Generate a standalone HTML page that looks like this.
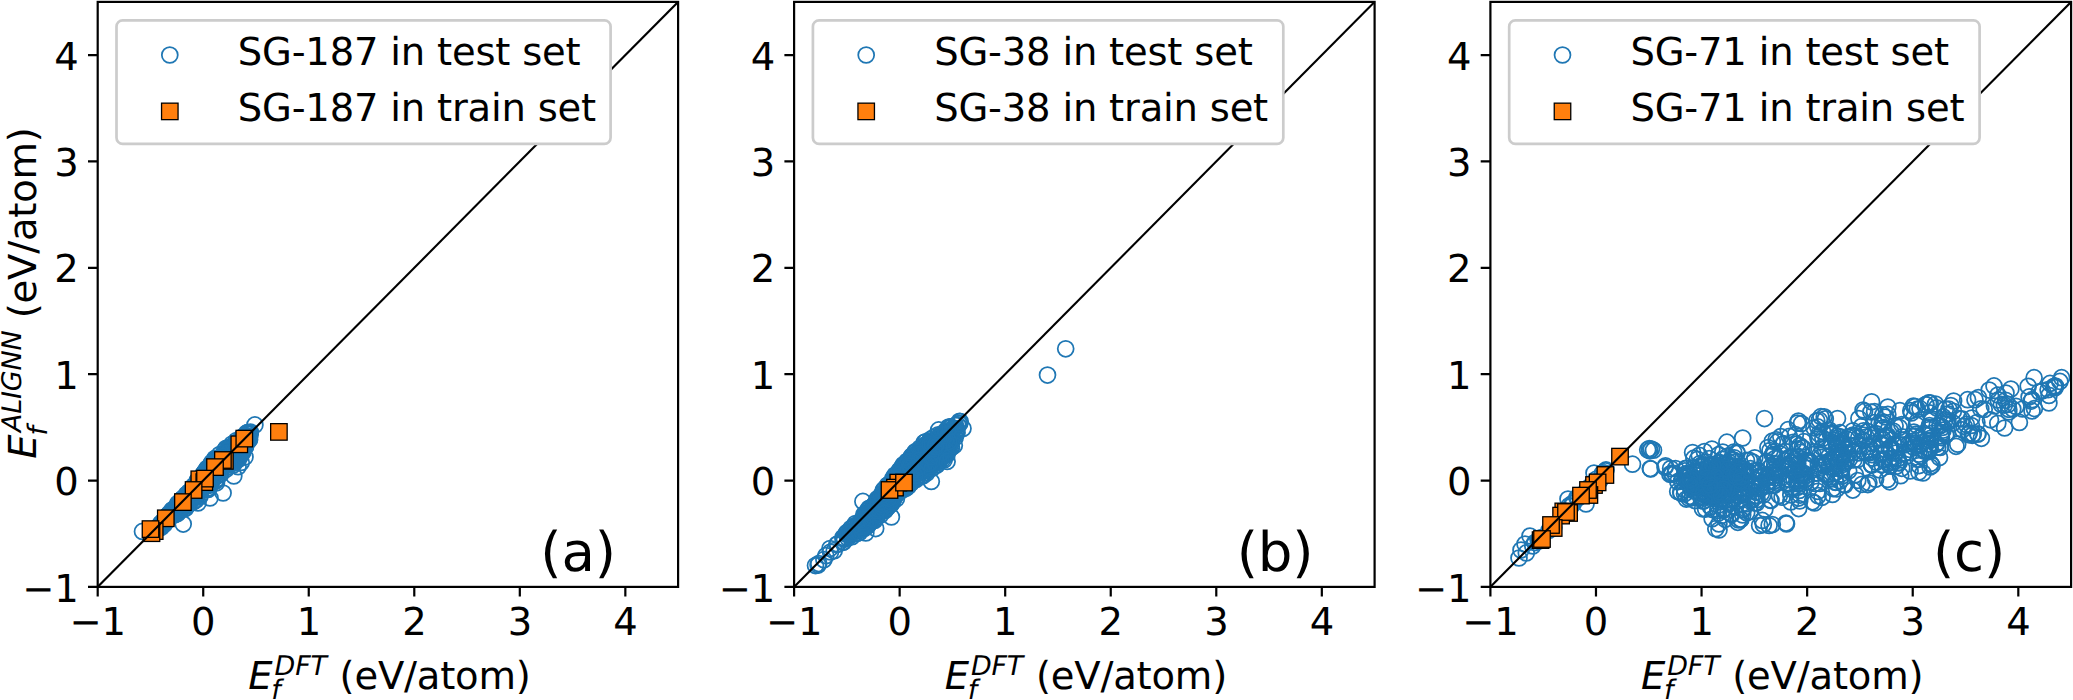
<!DOCTYPE html>
<html><head><meta charset="utf-8"><title>ALIGNN vs DFT formation energy</title>
<style>html,body{margin:0;padding:0;background:#fff}svg{display:block}text{font-family:"DejaVu Sans","Liberation Sans",sans-serif;fill:#000;text-rendering:geometricPrecision;letter-spacing:-0.2px}.i{font-style:oblique}</style></head><body>
<svg width="2073" height="700" viewBox="0 0 2073 700">
<rect width="2073" height="700" fill="#fff"/>
<defs>
<circle id="c" r="7.97" fill="none" stroke="#1f77b4" stroke-width="1.75"/>
<rect id="s" x="-8.25" y="-8.25" width="16.5" height="16.5" fill="#ff7f0e" stroke="#000" stroke-width="1.3" stroke-linejoin="miter"/>
<clipPath id="cp0"><rect x="97.7" y="1.9" width="580.4" height="585.0"/></clipPath>
<clipPath id="cp1"><rect x="794.1" y="1.9" width="580.4999999999999" height="585.0"/></clipPath>
<clipPath id="cp2"><rect x="1490.4" y="1.9" width="580.6999999999998" height="585.0"/></clipPath>
</defs>
<g clip-path="url(#cp0)">
<use href="#c" x="212.0" y="474.0"/><use href="#c" x="160.5" y="523.8"/><use href="#c" x="189.5" y="503.3"/><use href="#c" x="230.1" y="456.2"/><use href="#c" x="206.9" y="489.1"/><use href="#c" x="200.6" y="480.3"/><use href="#c" x="237.8" y="459.6"/><use href="#c" x="240.6" y="447.0"/><use href="#c" x="174.7" y="509.8"/><use href="#c" x="199.2" y="491.1"/><use href="#c" x="155.3" y="531.0"/><use href="#c" x="220.7" y="460.2"/><use href="#c" x="210.7" y="484.0"/><use href="#c" x="198.9" y="486.2"/><use href="#c" x="240.6" y="455.7"/><use href="#c" x="155.4" y="528.8"/><use href="#c" x="236.4" y="440.6"/><use href="#c" x="245.0" y="438.2"/><use href="#c" x="226.1" y="469.3"/><use href="#c" x="225.6" y="453.8"/><use href="#c" x="229.5" y="453.2"/><use href="#c" x="230.0" y="461.1"/><use href="#c" x="167.6" y="515.7"/><use href="#c" x="215.4" y="468.1"/><use href="#c" x="176.1" y="507.5"/><use href="#c" x="215.5" y="466.5"/><use href="#c" x="166.3" y="519.9"/><use href="#c" x="164.9" y="519.0"/><use href="#c" x="241.7" y="437.3"/><use href="#c" x="220.0" y="458.8"/><use href="#c" x="223.4" y="455.9"/><use href="#c" x="177.8" y="506.7"/><use href="#c" x="212.1" y="466.3"/><use href="#c" x="225.0" y="456.4"/><use href="#c" x="207.3" y="468.2"/><use href="#c" x="163.0" y="525.1"/><use href="#c" x="231.2" y="451.6"/><use href="#c" x="227.0" y="458.6"/><use href="#c" x="226.4" y="455.1"/><use href="#c" x="220.7" y="457.0"/><use href="#c" x="197.1" y="491.3"/><use href="#c" x="232.7" y="459.5"/><use href="#c" x="239.2" y="446.2"/><use href="#c" x="197.8" y="487.0"/><use href="#c" x="193.8" y="486.9"/><use href="#c" x="237.3" y="451.7"/><use href="#c" x="248.2" y="440.9"/><use href="#c" x="206.2" y="477.3"/><use href="#c" x="228.0" y="462.3"/><use href="#c" x="247.9" y="434.0"/><use href="#c" x="202.9" y="486.4"/><use href="#c" x="225.4" y="462.8"/><use href="#c" x="243.8" y="437.2"/><use href="#c" x="197.1" y="483.8"/><use href="#c" x="219.0" y="461.8"/><use href="#c" x="202.4" y="484.8"/><use href="#c" x="201.1" y="482.1"/><use href="#c" x="192.4" y="490.6"/><use href="#c" x="210.2" y="471.5"/><use href="#c" x="200.0" y="486.5"/><use href="#c" x="177.5" y="513.6"/><use href="#c" x="196.0" y="500.0"/><use href="#c" x="229.9" y="453.4"/><use href="#c" x="175.6" y="509.7"/><use href="#c" x="186.4" y="498.3"/><use href="#c" x="184.4" y="504.4"/><use href="#c" x="214.2" y="460.4"/><use href="#c" x="217.3" y="461.9"/><use href="#c" x="226.0" y="452.2"/><use href="#c" x="166.1" y="516.9"/><use href="#c" x="220.4" y="461.9"/><use href="#c" x="193.0" y="502.1"/><use href="#c" x="177.6" y="503.7"/><use href="#c" x="190.5" y="501.1"/><use href="#c" x="241.9" y="441.9"/><use href="#c" x="239.3" y="446.2"/><use href="#c" x="230.5" y="450.7"/><use href="#c" x="222.3" y="466.4"/><use href="#c" x="221.2" y="467.7"/><use href="#c" x="187.0" y="496.7"/><use href="#c" x="191.2" y="492.4"/><use href="#c" x="231.3" y="450.1"/><use href="#c" x="232.2" y="454.7"/><use href="#c" x="214.7" y="458.7"/><use href="#c" x="247.0" y="438.5"/><use href="#c" x="216.0" y="466.5"/><use href="#c" x="202.6" y="481.0"/><use href="#c" x="199.8" y="485.4"/><use href="#c" x="211.4" y="478.1"/><use href="#c" x="228.6" y="447.5"/><use href="#c" x="197.2" y="486.5"/><use href="#c" x="199.7" y="484.2"/><use href="#c" x="247.3" y="441.3"/><use href="#c" x="164.8" y="520.8"/><use href="#c" x="188.7" y="502.2"/><use href="#c" x="231.9" y="461.3"/><use href="#c" x="175.3" y="508.2"/><use href="#c" x="185.9" y="508.1"/><use href="#c" x="215.2" y="460.1"/><use href="#c" x="219.8" y="474.2"/><use href="#c" x="158.1" y="528.2"/><use href="#c" x="210.1" y="476.8"/><use href="#c" x="248.8" y="436.7"/><use href="#c" x="211.3" y="471.7"/><use href="#c" x="243.1" y="438.8"/><use href="#c" x="232.3" y="453.6"/><use href="#c" x="238.7" y="456.1"/><use href="#c" x="213.8" y="471.2"/><use href="#c" x="183.7" y="505.2"/><use href="#c" x="199.1" y="484.6"/><use href="#c" x="181.6" y="507.5"/><use href="#c" x="169.1" y="514.9"/><use href="#c" x="235.5" y="460.5"/><use href="#c" x="207.3" y="468.8"/><use href="#c" x="184.0" y="506.1"/><use href="#c" x="211.5" y="468.8"/><use href="#c" x="245.0" y="446.2"/><use href="#c" x="161.5" y="522.8"/><use href="#c" x="198.7" y="479.7"/><use href="#c" x="160.8" y="526.3"/><use href="#c" x="222.3" y="457.6"/><use href="#c" x="245.5" y="446.9"/><use href="#c" x="169.4" y="516.8"/><use href="#c" x="216.5" y="476.2"/><use href="#c" x="238.2" y="459.5"/><use href="#c" x="195.9" y="495.6"/><use href="#c" x="220.2" y="461.8"/><use href="#c" x="164.6" y="519.1"/><use href="#c" x="210.6" y="473.3"/><use href="#c" x="183.3" y="498.8"/><use href="#c" x="223.2" y="462.3"/><use href="#c" x="235.1" y="448.3"/><use href="#c" x="200.3" y="479.7"/><use href="#c" x="174.8" y="514.7"/><use href="#c" x="246.4" y="433.2"/><use href="#c" x="185.5" y="505.6"/><use href="#c" x="215.1" y="462.1"/><use href="#c" x="156.8" y="527.8"/><use href="#c" x="187.7" y="503.5"/><use href="#c" x="212.4" y="478.9"/><use href="#c" x="227.9" y="450.8"/><use href="#c" x="239.4" y="443.8"/><use href="#c" x="174.9" y="514.0"/><use href="#c" x="224.2" y="457.4"/><use href="#c" x="231.9" y="459.2"/><use href="#c" x="226.1" y="448.3"/><use href="#c" x="191.6" y="499.6"/><use href="#c" x="215.3" y="458.6"/><use href="#c" x="161.3" y="527.3"/><use href="#c" x="227.7" y="464.9"/><use href="#c" x="199.4" y="489.3"/><use href="#c" x="233.7" y="457.2"/><use href="#c" x="209.8" y="475.7"/><use href="#c" x="209.6" y="473.7"/><use href="#c" x="186.3" y="494.6"/><use href="#c" x="197.6" y="491.9"/><use href="#c" x="165.8" y="521.2"/><use href="#c" x="161.6" y="525.8"/><use href="#c" x="187.9" y="503.4"/><use href="#c" x="211.7" y="481.1"/><use href="#c" x="185.3" y="501.8"/><use href="#c" x="220.5" y="461.2"/><use href="#c" x="245.0" y="442.7"/><use href="#c" x="213.2" y="478.6"/><use href="#c" x="231.2" y="450.5"/><use href="#c" x="248.7" y="436.3"/><use href="#c" x="230.1" y="453.8"/><use href="#c" x="193.1" y="491.2"/><use href="#c" x="183.4" y="504.9"/><use href="#c" x="245.1" y="440.3"/><use href="#c" x="219.4" y="463.5"/><use href="#c" x="195.2" y="500.3"/><use href="#c" x="247.6" y="432.7"/><use href="#c" x="250.3" y="432.0"/><use href="#c" x="166.7" y="516.4"/><use href="#c" x="195.2" y="485.0"/><use href="#c" x="179.8" y="506.2"/><use href="#c" x="166.1" y="518.7"/><use href="#c" x="232.1" y="444.0"/><use href="#c" x="206.4" y="485.0"/><use href="#c" x="193.4" y="486.1"/><use href="#c" x="219.9" y="463.0"/><use href="#c" x="203.1" y="478.8"/><use href="#c" x="232.5" y="461.4"/><use href="#c" x="209.2" y="487.7"/><use href="#c" x="245.3" y="444.1"/><use href="#c" x="234.3" y="447.0"/><use href="#c" x="225.1" y="460.5"/><use href="#c" x="235.5" y="443.9"/><use href="#c" x="239.5" y="441.2"/><use href="#c" x="206.5" y="469.2"/><use href="#c" x="219.0" y="459.6"/><use href="#c" x="231.6" y="459.7"/><use href="#c" x="181.3" y="499.8"/><use href="#c" x="204.6" y="476.7"/><use href="#c" x="216.4" y="480.6"/><use href="#c" x="235.7" y="450.8"/><use href="#c" x="195.9" y="489.6"/><use href="#c" x="249.7" y="433.1"/><use href="#c" x="250.2" y="434.4"/><use href="#c" x="192.5" y="499.4"/><use href="#c" x="191.7" y="493.7"/><use href="#c" x="208.1" y="489.4"/><use href="#c" x="241.8" y="441.8"/><use href="#c" x="186.9" y="505.5"/><use href="#c" x="195.3" y="491.6"/><use href="#c" x="203.2" y="482.2"/><use href="#c" x="209.6" y="482.8"/><use href="#c" x="235.1" y="460.2"/><use href="#c" x="223.7" y="463.8"/><use href="#c" x="233.3" y="451.6"/><use href="#c" x="215.0" y="470.0"/><use href="#c" x="156.4" y="529.9"/><use href="#c" x="160.1" y="527.0"/><use href="#c" x="191.9" y="495.7"/><use href="#c" x="213.4" y="472.9"/><use href="#c" x="210.3" y="467.1"/><use href="#c" x="180.7" y="506.8"/><use href="#c" x="236.4" y="454.8"/><use href="#c" x="207.5" y="472.9"/><use href="#c" x="155.3" y="530.5"/><use href="#c" x="171.2" y="512.7"/><use href="#c" x="234.6" y="459.0"/><use href="#c" x="220.3" y="473.6"/><use href="#c" x="229.0" y="459.1"/><use href="#c" x="189.6" y="494.0"/><use href="#c" x="219.7" y="469.7"/><use href="#c" x="236.1" y="447.2"/><use href="#c" x="222.9" y="454.6"/><use href="#c" x="232.6" y="456.9"/><use href="#c" x="176.7" y="508.9"/><use href="#c" x="242.0" y="446.7"/><use href="#c" x="236.7" y="442.7"/><use href="#c" x="214.2" y="463.0"/><use href="#c" x="176.9" y="506.3"/><use href="#c" x="236.6" y="453.0"/><use href="#c" x="248.5" y="433.4"/><use href="#c" x="226.2" y="454.2"/><use href="#c" x="216.5" y="482.8"/><use href="#c" x="199.7" y="492.0"/><use href="#c" x="245.4" y="446.6"/><use href="#c" x="203.8" y="473.3"/><use href="#c" x="226.8" y="454.2"/><use href="#c" x="242.2" y="440.0"/><use href="#c" x="199.9" y="496.4"/><use href="#c" x="215.2" y="463.1"/><use href="#c" x="165.4" y="519.7"/><use href="#c" x="182.9" y="498.3"/><use href="#c" x="175.1" y="511.3"/><use href="#c" x="207.3" y="472.0"/><use href="#c" x="200.5" y="484.4"/><use href="#c" x="189.6" y="497.6"/><use href="#c" x="220.4" y="459.4"/><use href="#c" x="206.9" y="483.7"/><use href="#c" x="166.3" y="519.1"/><use href="#c" x="219.2" y="467.4"/><use href="#c" x="247.5" y="441.4"/><use href="#c" x="178.6" y="508.2"/><use href="#c" x="158.6" y="528.0"/><use href="#c" x="227.2" y="467.0"/><use href="#c" x="193.2" y="492.5"/><use href="#c" x="245.5" y="435.9"/><use href="#c" x="196.4" y="489.5"/><use href="#c" x="249.6" y="439.4"/><use href="#c" x="178.4" y="503.3"/><use href="#c" x="195.2" y="492.4"/><use href="#c" x="247.0" y="439.7"/><use href="#c" x="186.4" y="496.5"/><use href="#c" x="242.8" y="441.0"/><use href="#c" x="184.9" y="508.6"/><use href="#c" x="182.3" y="498.9"/><use href="#c" x="197.0" y="481.9"/><use href="#c" x="154.5" y="532.7"/><use href="#c" x="213.5" y="471.8"/><use href="#c" x="241.8" y="450.5"/><use href="#c" x="228.9" y="449.0"/><use href="#c" x="222.5" y="465.2"/><use href="#c" x="233.5" y="448.8"/><use href="#c" x="198.6" y="480.7"/><use href="#c" x="199.5" y="478.2"/><use href="#c" x="242.6" y="452.5"/><use href="#c" x="201.8" y="489.1"/><use href="#c" x="182.8" y="500.4"/><use href="#c" x="223.2" y="457.8"/><use href="#c" x="203.9" y="473.0"/><use href="#c" x="236.8" y="443.7"/><use href="#c" x="235.5" y="448.1"/><use href="#c" x="213.4" y="477.5"/><use href="#c" x="231.4" y="449.0"/><use href="#c" x="197.0" y="486.7"/><use href="#c" x="237.7" y="456.8"/><use href="#c" x="235.1" y="454.3"/><use href="#c" x="203.1" y="478.9"/><use href="#c" x="181.6" y="503.5"/><use href="#c" x="213.4" y="468.9"/><use href="#c" x="217.8" y="467.2"/><use href="#c" x="187.9" y="493.4"/><use href="#c" x="209.3" y="469.1"/><use href="#c" x="243.7" y="443.1"/><use href="#c" x="215.3" y="481.1"/><use href="#c" x="219.1" y="462.8"/><use href="#c" x="166.8" y="520.6"/><use href="#c" x="242.0" y="441.9"/><use href="#c" x="155.6" y="530.3"/><use href="#c" x="216.4" y="467.0"/><use href="#c" x="233.4" y="465.0"/><use href="#c" x="192.5" y="495.1"/><use href="#c" x="203.8" y="477.4"/><use href="#c" x="209.8" y="483.1"/><use href="#c" x="181.7" y="500.1"/><use href="#c" x="172.3" y="514.2"/><use href="#c" x="203.0" y="484.3"/><use href="#c" x="219.6" y="454.6"/><use href="#c" x="169.4" y="513.6"/><use href="#c" x="189.2" y="491.8"/><use href="#c" x="242.6" y="441.4"/><use href="#c" x="230.9" y="455.4"/><use href="#c" x="215.0" y="462.9"/><use href="#c" x="175.1" y="513.4"/><use href="#c" x="193.2" y="494.6"/><use href="#c" x="166.7" y="519.8"/><use href="#c" x="202.8" y="477.8"/><use href="#c" x="197.9" y="485.8"/><use href="#c" x="231.6" y="451.9"/><use href="#c" x="224.5" y="450.7"/><use href="#c" x="229.3" y="460.3"/><use href="#c" x="242.4" y="449.8"/><use href="#c" x="227.8" y="450.3"/><use href="#c" x="172.7" y="509.6"/><use href="#c" x="212.7" y="462.4"/><use href="#c" x="165.8" y="520.4"/><use href="#c" x="220.1" y="474.6"/><use href="#c" x="205.0" y="474.0"/><use href="#c" x="204.3" y="486.1"/><use href="#c" x="180.3" y="510.6"/><use href="#c" x="205.3" y="474.6"/><use href="#c" x="208.6" y="485.4"/><use href="#c" x="187.4" y="498.6"/><use href="#c" x="184.9" y="506.6"/><use href="#c" x="207.3" y="483.3"/><use href="#c" x="213.2" y="464.7"/><use href="#c" x="209.0" y="471.4"/><use href="#c" x="239.2" y="453.9"/><use href="#c" x="231.5" y="455.6"/><use href="#c" x="207.8" y="473.9"/><use href="#c" x="164.7" y="524.0"/><use href="#c" x="194.9" y="490.6"/><use href="#c" x="198.6" y="493.3"/><use href="#c" x="233.8" y="463.1"/><use href="#c" x="209.5" y="477.5"/><use href="#c" x="227.1" y="457.3"/><use href="#c" x="213.4" y="468.3"/><use href="#c" x="165.8" y="519.0"/><use href="#c" x="197.8" y="485.0"/><use href="#c" x="205.2" y="485.7"/><use href="#c" x="209.3" y="467.3"/><use href="#c" x="214.8" y="474.2"/><use href="#c" x="220.6" y="474.2"/><use href="#c" x="218.7" y="462.5"/><use href="#c" x="212.0" y="462.4"/><use href="#c" x="178.5" y="504.8"/><use href="#c" x="198.4" y="485.4"/><use href="#c" x="215.4" y="468.5"/><use href="#c" x="227.9" y="453.1"/><use href="#c" x="234.9" y="456.5"/><use href="#c" x="200.0" y="494.9"/><use href="#c" x="197.6" y="480.1"/><use href="#c" x="197.1" y="482.4"/><use href="#c" x="205.7" y="478.0"/><use href="#c" x="224.4" y="456.2"/><use href="#c" x="211.5" y="468.2"/><use href="#c" x="156.6" y="529.1"/><use href="#c" x="170.9" y="513.2"/><use href="#c" x="196.9" y="491.2"/><use href="#c" x="174.9" y="508.3"/><use href="#c" x="173.5" y="511.0"/><use href="#c" x="214.5" y="471.5"/><use href="#c" x="201.3" y="484.1"/><use href="#c" x="172.9" y="514.1"/><use href="#c" x="202.0" y="478.7"/><use href="#c" x="155.7" y="529.2"/><use href="#c" x="198.7" y="483.1"/><use href="#c" x="248.0" y="432.6"/><use href="#c" x="206.3" y="471.5"/><use href="#c" x="169.4" y="518.3"/><use href="#c" x="239.5" y="446.1"/><use href="#c" x="188.1" y="495.4"/><use href="#c" x="208.9" y="474.5"/><use href="#c" x="195.0" y="493.9"/><use href="#c" x="196.1" y="491.3"/><use href="#c" x="205.3" y="471.6"/><use href="#c" x="185.9" y="498.8"/><use href="#c" x="205.3" y="483.0"/><use href="#c" x="219.6" y="465.7"/><use href="#c" x="178.3" y="512.2"/><use href="#c" x="214.9" y="470.4"/><use href="#c" x="199.1" y="486.8"/><use href="#c" x="242.6" y="452.1"/><use href="#c" x="238.9" y="444.5"/><use href="#c" x="209.3" y="472.0"/><use href="#c" x="232.1" y="455.2"/><use href="#c" x="233.7" y="450.0"/><use href="#c" x="171.6" y="510.8"/><use href="#c" x="211.5" y="462.9"/><use href="#c" x="184.6" y="498.8"/><use href="#c" x="245.1" y="439.5"/><use href="#c" x="198.5" y="489.4"/><use href="#c" x="187.6" y="494.4"/><use href="#c" x="198.1" y="485.7"/><use href="#c" x="222.1" y="458.3"/><use href="#c" x="205.3" y="480.6"/><use href="#c" x="235.6" y="450.1"/><use href="#c" x="203.6" y="478.5"/><use href="#c" x="207.2" y="480.8"/><use href="#c" x="228.9" y="464.3"/><use href="#c" x="185.6" y="500.3"/><use href="#c" x="208.7" y="472.2"/><use href="#c" x="208.0" y="471.1"/><use href="#c" x="205.2" y="478.0"/><use href="#c" x="180.5" y="507.3"/><use href="#c" x="142.5" y="531.4"/><use href="#c" x="183.2" y="524.1"/><use href="#c" x="223.1" y="493.0"/><use href="#c" x="210.0" y="498.0"/><use href="#c" x="198.0" y="502.9"/><use href="#c" x="254.9" y="424.9"/><use href="#c" x="249.0" y="439.9"/><use href="#c" x="245.0" y="456.9"/><use href="#c" x="233.8" y="476.0"/><use href="#c" x="238.1" y="466.7"/><use href="#c" x="241.2" y="462.5"/>
<use href="#s" x="278.9" y="431.9"/><use href="#s" x="239.3" y="444.3"/><use href="#s" x="244.3" y="438.6"/><use href="#s" x="224.9" y="460.9"/><use href="#s" x="222.9" y="460.0"/><use href="#s" x="215.0" y="467.1"/><use href="#s" x="199.3" y="479.3"/><use href="#s" x="204.3" y="482.1"/><use href="#s" x="205.0" y="478.6"/><use href="#s" x="193.6" y="490.0"/><use href="#s" x="182.9" y="502.1"/><use href="#s" x="165.8" y="518.3"/><use href="#s" x="154.7" y="531.1"/><use href="#s" x="151.5" y="533.2"/><use href="#s" x="150.5" y="529.1"/>
<line x1="97.7" y1="586.9" x2="678.1" y2="1.9" stroke="#000" stroke-width="2.1"/>
</g>
<rect x="116.5" y="20.3" width="494.1" height="123.6" rx="6.2" ry="6.2" fill="#fff" stroke="#ccc" stroke-width="2.7"/>
<use href="#c" x="169.8" y="55.0"/>
<use href="#s" x="169.8" y="111.4"/>
<text x="237.8" y="65.0" font-size="38.5">SG-187 in test set</text>
<text x="237.8" y="121.2" font-size="38.5">SG-187 in train set</text>
<rect x="97.7" y="1.9" width="580.4" height="585.0" fill="none" stroke="#000" stroke-width="2.2"/>
<path d="M97.70 586.9v9.7M97.7 586.90h-9.7M203.23 586.9v9.7M97.7 480.54h-9.7M308.75 586.9v9.7M97.7 374.17h-9.7M414.28 586.9v9.7M97.7 267.81h-9.7M519.81 586.9v9.7M97.7 161.45h-9.7M625.34 586.9v9.7M97.7 55.08h-9.7" stroke="#000" stroke-width="2.2" fill="none"/>
<text x="97.7" y="635.3" font-size="38.5" text-anchor="middle">−1</text>
<text x="78.6" y="601.5" font-size="38.5" text-anchor="end">−1</text>
<text x="203.2" y="635.3" font-size="38.5" text-anchor="middle">0</text>
<text x="78.6" y="495.1" font-size="38.5" text-anchor="end">0</text>
<text x="308.8" y="635.3" font-size="38.5" text-anchor="middle">1</text>
<text x="78.6" y="388.8" font-size="38.5" text-anchor="end">1</text>
<text x="414.3" y="635.3" font-size="38.5" text-anchor="middle">2</text>
<text x="78.6" y="282.4" font-size="38.5" text-anchor="end">2</text>
<text x="519.8" y="635.3" font-size="38.5" text-anchor="middle">3</text>
<text x="78.6" y="176.0" font-size="38.5" text-anchor="end">3</text>
<text x="625.3" y="635.3" font-size="38.5" text-anchor="middle">4</text>
<text x="78.6" y="69.7" font-size="38.5" text-anchor="end">4</text>
<text x="540.3" y="571.0" font-size="54.6">(a)</text>
<text x="248.3" y="689.2" font-size="38.5" class="i">E</text>
<text x="274.6" y="674.9" font-size="26.95" class="i">DFT</text>
<text x="271.3" y="699.1" font-size="26.95" class="i">f</text>
<text x="339.6" y="689.2" font-size="38.5">(eV/atom)</text>
<g clip-path="url(#cp1)">
<use href="#c" x="866.2" y="513.1"/><use href="#c" x="940.2" y="455.8"/><use href="#c" x="875.9" y="502.8"/><use href="#c" x="852.9" y="528.5"/><use href="#c" x="909.8" y="462.9"/><use href="#c" x="911.6" y="461.7"/><use href="#c" x="876.2" y="502.1"/><use href="#c" x="902.6" y="479.3"/><use href="#c" x="947.2" y="431.4"/><use href="#c" x="931.8" y="441.1"/><use href="#c" x="888.1" y="501.3"/><use href="#c" x="878.8" y="501.7"/><use href="#c" x="926.4" y="444.7"/><use href="#c" x="916.4" y="477.6"/><use href="#c" x="915.3" y="454.7"/><use href="#c" x="916.5" y="456.6"/><use href="#c" x="916.7" y="470.0"/><use href="#c" x="940.4" y="458.9"/><use href="#c" x="842.8" y="537.7"/><use href="#c" x="914.4" y="453.0"/><use href="#c" x="843.2" y="542.3"/><use href="#c" x="939.6" y="440.2"/><use href="#c" x="874.8" y="506.6"/><use href="#c" x="943.6" y="448.4"/><use href="#c" x="944.3" y="438.4"/><use href="#c" x="849.6" y="534.8"/><use href="#c" x="937.7" y="443.8"/><use href="#c" x="869.0" y="508.3"/><use href="#c" x="903.0" y="469.1"/><use href="#c" x="911.6" y="457.8"/><use href="#c" x="863.6" y="521.4"/><use href="#c" x="945.8" y="436.1"/><use href="#c" x="944.3" y="441.8"/><use href="#c" x="927.7" y="463.9"/><use href="#c" x="881.4" y="495.6"/><use href="#c" x="923.0" y="447.3"/><use href="#c" x="854.6" y="530.3"/><use href="#c" x="956.2" y="430.8"/><use href="#c" x="924.1" y="466.8"/><use href="#c" x="885.8" y="494.5"/><use href="#c" x="924.0" y="442.7"/><use href="#c" x="926.5" y="469.0"/><use href="#c" x="887.8" y="498.6"/><use href="#c" x="906.0" y="465.7"/><use href="#c" x="901.5" y="480.6"/><use href="#c" x="890.5" y="490.6"/><use href="#c" x="924.7" y="455.9"/><use href="#c" x="951.1" y="439.5"/><use href="#c" x="937.8" y="461.6"/><use href="#c" x="891.2" y="485.2"/><use href="#c" x="940.8" y="453.4"/><use href="#c" x="921.5" y="453.6"/><use href="#c" x="909.6" y="476.7"/><use href="#c" x="926.3" y="461.1"/><use href="#c" x="924.7" y="446.9"/><use href="#c" x="858.1" y="526.0"/><use href="#c" x="886.9" y="495.6"/><use href="#c" x="890.9" y="484.4"/><use href="#c" x="865.4" y="518.2"/><use href="#c" x="857.5" y="525.6"/><use href="#c" x="959.2" y="423.6"/><use href="#c" x="926.1" y="445.7"/><use href="#c" x="951.3" y="438.6"/><use href="#c" x="850.3" y="532.1"/><use href="#c" x="916.1" y="462.3"/><use href="#c" x="882.6" y="509.0"/><use href="#c" x="917.4" y="472.9"/><use href="#c" x="894.0" y="498.2"/><use href="#c" x="911.4" y="482.7"/><use href="#c" x="931.4" y="445.2"/><use href="#c" x="908.8" y="475.9"/><use href="#c" x="908.7" y="482.5"/><use href="#c" x="936.9" y="462.3"/><use href="#c" x="893.5" y="488.8"/><use href="#c" x="955.2" y="432.8"/><use href="#c" x="868.8" y="513.1"/><use href="#c" x="911.0" y="464.9"/><use href="#c" x="946.5" y="454.4"/><use href="#c" x="944.5" y="434.4"/><use href="#c" x="923.5" y="455.6"/><use href="#c" x="925.7" y="466.9"/><use href="#c" x="922.2" y="467.8"/><use href="#c" x="960.2" y="421.6"/><use href="#c" x="873.1" y="512.2"/><use href="#c" x="854.1" y="526.1"/><use href="#c" x="917.7" y="472.0"/><use href="#c" x="932.3" y="447.4"/><use href="#c" x="931.5" y="462.4"/><use href="#c" x="934.8" y="450.7"/><use href="#c" x="870.7" y="514.6"/><use href="#c" x="881.8" y="494.2"/><use href="#c" x="938.3" y="442.6"/><use href="#c" x="880.5" y="500.5"/><use href="#c" x="934.6" y="440.1"/><use href="#c" x="880.6" y="496.2"/><use href="#c" x="899.8" y="477.3"/><use href="#c" x="908.2" y="475.4"/><use href="#c" x="921.5" y="463.8"/><use href="#c" x="940.4" y="437.0"/><use href="#c" x="872.6" y="515.3"/><use href="#c" x="948.2" y="433.7"/><use href="#c" x="926.8" y="455.0"/><use href="#c" x="873.9" y="514.6"/><use href="#c" x="859.9" y="521.7"/><use href="#c" x="930.2" y="439.6"/><use href="#c" x="930.5" y="448.4"/><use href="#c" x="889.8" y="490.5"/><use href="#c" x="905.4" y="470.5"/><use href="#c" x="888.5" y="485.1"/><use href="#c" x="902.0" y="486.4"/><use href="#c" x="949.8" y="427.6"/><use href="#c" x="923.2" y="461.8"/><use href="#c" x="855.4" y="523.6"/><use href="#c" x="886.0" y="507.2"/><use href="#c" x="910.1" y="475.7"/><use href="#c" x="944.1" y="460.0"/><use href="#c" x="944.5" y="452.7"/><use href="#c" x="942.9" y="446.8"/><use href="#c" x="913.1" y="460.5"/><use href="#c" x="912.9" y="479.1"/><use href="#c" x="944.1" y="444.2"/><use href="#c" x="878.0" y="498.3"/><use href="#c" x="870.4" y="515.0"/><use href="#c" x="888.2" y="485.6"/><use href="#c" x="932.1" y="456.5"/><use href="#c" x="895.8" y="483.1"/><use href="#c" x="903.5" y="464.5"/><use href="#c" x="921.8" y="463.1"/><use href="#c" x="891.0" y="485.4"/><use href="#c" x="892.2" y="491.4"/><use href="#c" x="937.6" y="447.6"/><use href="#c" x="910.7" y="462.7"/><use href="#c" x="923.7" y="473.0"/><use href="#c" x="864.9" y="517.4"/><use href="#c" x="910.6" y="459.9"/><use href="#c" x="955.2" y="437.6"/><use href="#c" x="932.9" y="456.9"/><use href="#c" x="879.6" y="500.0"/><use href="#c" x="880.8" y="512.1"/><use href="#c" x="924.8" y="457.6"/><use href="#c" x="936.6" y="464.9"/><use href="#c" x="914.0" y="458.5"/><use href="#c" x="864.6" y="528.3"/><use href="#c" x="927.6" y="448.6"/><use href="#c" x="903.6" y="481.2"/><use href="#c" x="877.2" y="503.8"/><use href="#c" x="846.0" y="533.7"/><use href="#c" x="928.2" y="452.3"/><use href="#c" x="949.9" y="427.0"/><use href="#c" x="940.0" y="456.6"/><use href="#c" x="905.0" y="473.0"/><use href="#c" x="882.5" y="496.1"/><use href="#c" x="895.9" y="490.0"/><use href="#c" x="913.0" y="462.2"/><use href="#c" x="915.8" y="466.3"/><use href="#c" x="911.8" y="467.2"/><use href="#c" x="911.3" y="463.7"/><use href="#c" x="917.9" y="452.8"/><use href="#c" x="947.3" y="451.7"/><use href="#c" x="898.8" y="479.8"/><use href="#c" x="938.2" y="434.8"/><use href="#c" x="942.6" y="449.5"/><use href="#c" x="926.1" y="457.3"/><use href="#c" x="925.8" y="465.6"/><use href="#c" x="896.2" y="481.3"/><use href="#c" x="892.3" y="485.7"/><use href="#c" x="913.3" y="472.5"/><use href="#c" x="951.5" y="447.4"/><use href="#c" x="893.0" y="478.3"/><use href="#c" x="943.9" y="450.8"/><use href="#c" x="930.6" y="448.8"/><use href="#c" x="922.3" y="475.4"/><use href="#c" x="887.9" y="494.2"/><use href="#c" x="879.3" y="509.3"/><use href="#c" x="894.6" y="488.7"/><use href="#c" x="896.6" y="487.0"/><use href="#c" x="900.8" y="473.7"/><use href="#c" x="922.0" y="453.1"/><use href="#c" x="931.7" y="446.8"/><use href="#c" x="891.3" y="484.0"/><use href="#c" x="849.0" y="533.1"/><use href="#c" x="929.9" y="448.9"/><use href="#c" x="943.9" y="449.1"/><use href="#c" x="847.7" y="531.9"/><use href="#c" x="818.7" y="563.6"/><use href="#c" x="887.7" y="507.2"/><use href="#c" x="924.7" y="463.5"/><use href="#c" x="906.3" y="467.8"/><use href="#c" x="903.2" y="477.0"/><use href="#c" x="936.3" y="452.4"/><use href="#c" x="949.8" y="432.4"/><use href="#c" x="912.8" y="469.1"/><use href="#c" x="905.7" y="487.9"/><use href="#c" x="895.0" y="475.0"/><use href="#c" x="917.8" y="471.3"/><use href="#c" x="951.6" y="432.2"/><use href="#c" x="930.7" y="456.4"/><use href="#c" x="906.1" y="479.5"/><use href="#c" x="957.8" y="425.0"/><use href="#c" x="908.0" y="461.0"/><use href="#c" x="939.8" y="458.5"/><use href="#c" x="859.9" y="529.1"/><use href="#c" x="921.5" y="453.3"/><use href="#c" x="872.7" y="515.7"/><use href="#c" x="910.1" y="482.9"/><use href="#c" x="856.4" y="531.1"/><use href="#c" x="892.4" y="502.4"/><use href="#c" x="928.6" y="449.7"/><use href="#c" x="953.6" y="428.3"/><use href="#c" x="866.0" y="515.6"/><use href="#c" x="849.0" y="534.7"/><use href="#c" x="919.8" y="451.9"/><use href="#c" x="921.6" y="462.3"/><use href="#c" x="878.2" y="500.0"/><use href="#c" x="874.2" y="515.9"/><use href="#c" x="888.8" y="493.2"/><use href="#c" x="925.5" y="441.8"/><use href="#c" x="895.4" y="495.7"/><use href="#c" x="884.6" y="493.1"/><use href="#c" x="888.4" y="489.6"/><use href="#c" x="889.9" y="503.2"/><use href="#c" x="935.8" y="451.1"/><use href="#c" x="897.5" y="485.7"/><use href="#c" x="919.8" y="451.2"/><use href="#c" x="902.3" y="472.3"/><use href="#c" x="921.2" y="458.0"/><use href="#c" x="896.6" y="478.0"/><use href="#c" x="882.3" y="500.8"/><use href="#c" x="930.1" y="458.5"/><use href="#c" x="916.1" y="479.5"/><use href="#c" x="896.6" y="475.2"/><use href="#c" x="920.7" y="465.1"/><use href="#c" x="890.4" y="497.6"/><use href="#c" x="924.6" y="448.9"/><use href="#c" x="913.6" y="469.7"/><use href="#c" x="917.0" y="460.2"/><use href="#c" x="926.6" y="461.7"/><use href="#c" x="942.9" y="446.5"/><use href="#c" x="823.9" y="559.7"/><use href="#c" x="939.1" y="455.7"/><use href="#c" x="882.6" y="498.4"/><use href="#c" x="926.2" y="452.6"/><use href="#c" x="887.0" y="504.4"/><use href="#c" x="920.1" y="472.5"/><use href="#c" x="959.5" y="421.3"/><use href="#c" x="915.6" y="455.8"/><use href="#c" x="926.5" y="465.5"/><use href="#c" x="924.5" y="467.0"/><use href="#c" x="921.7" y="466.8"/><use href="#c" x="915.5" y="458.8"/><use href="#c" x="942.1" y="456.8"/><use href="#c" x="921.0" y="460.4"/><use href="#c" x="927.3" y="451.7"/><use href="#c" x="939.8" y="460.0"/><use href="#c" x="877.9" y="508.7"/><use href="#c" x="917.7" y="455.2"/><use href="#c" x="918.8" y="456.9"/><use href="#c" x="956.0" y="433.9"/><use href="#c" x="854.6" y="526.5"/><use href="#c" x="940.4" y="453.2"/><use href="#c" x="943.6" y="435.6"/><use href="#c" x="918.2" y="455.1"/><use href="#c" x="849.1" y="535.5"/><use href="#c" x="943.0" y="443.4"/><use href="#c" x="908.8" y="477.9"/><use href="#c" x="882.8" y="500.8"/><use href="#c" x="882.3" y="498.7"/><use href="#c" x="921.7" y="458.8"/><use href="#c" x="920.0" y="448.0"/><use href="#c" x="902.7" y="466.1"/><use href="#c" x="912.9" y="470.4"/><use href="#c" x="916.4" y="470.8"/><use href="#c" x="920.2" y="455.9"/><use href="#c" x="926.1" y="457.1"/><use href="#c" x="933.8" y="449.2"/><use href="#c" x="908.3" y="463.4"/><use href="#c" x="871.1" y="518.7"/><use href="#c" x="857.6" y="527.6"/><use href="#c" x="920.4" y="466.4"/><use href="#c" x="907.9" y="470.1"/><use href="#c" x="921.6" y="450.0"/><use href="#c" x="867.5" y="522.6"/><use href="#c" x="869.5" y="518.4"/><use href="#c" x="836.8" y="544.4"/><use href="#c" x="873.6" y="505.6"/><use href="#c" x="899.2" y="473.8"/><use href="#c" x="927.5" y="470.8"/><use href="#c" x="879.7" y="504.1"/><use href="#c" x="927.2" y="469.1"/><use href="#c" x="928.4" y="457.7"/><use href="#c" x="885.6" y="492.2"/><use href="#c" x="937.6" y="451.2"/><use href="#c" x="881.7" y="507.3"/><use href="#c" x="916.2" y="454.1"/><use href="#c" x="895.7" y="481.7"/><use href="#c" x="910.1" y="462.5"/><use href="#c" x="940.5" y="458.1"/><use href="#c" x="896.4" y="498.7"/><use href="#c" x="956.5" y="429.7"/><use href="#c" x="948.1" y="440.1"/><use href="#c" x="936.9" y="464.9"/><use href="#c" x="888.5" y="487.5"/><use href="#c" x="859.3" y="524.0"/><use href="#c" x="931.1" y="462.6"/><use href="#c" x="882.0" y="508.1"/><use href="#c" x="873.4" y="513.5"/><use href="#c" x="926.6" y="459.6"/><use href="#c" x="867.2" y="518.0"/><use href="#c" x="921.5" y="455.1"/><use href="#c" x="874.7" y="507.1"/><use href="#c" x="914.2" y="457.4"/><use href="#c" x="932.0" y="458.1"/><use href="#c" x="898.5" y="473.3"/><use href="#c" x="904.5" y="486.0"/><use href="#c" x="896.4" y="478.1"/><use href="#c" x="894.8" y="479.7"/><use href="#c" x="892.7" y="484.0"/><use href="#c" x="873.0" y="509.1"/><use href="#c" x="944.6" y="438.9"/><use href="#c" x="935.2" y="460.1"/><use href="#c" x="864.2" y="515.9"/><use href="#c" x="932.5" y="463.2"/><use href="#c" x="904.7" y="479.3"/><use href="#c" x="857.8" y="524.7"/><use href="#c" x="889.2" y="492.7"/><use href="#c" x="892.0" y="484.4"/><use href="#c" x="928.7" y="462.4"/><use href="#c" x="868.1" y="525.1"/><use href="#c" x="889.4" y="484.0"/><use href="#c" x="935.3" y="450.3"/><use href="#c" x="844.2" y="539.3"/><use href="#c" x="906.4" y="482.8"/><use href="#c" x="924.0" y="445.4"/><use href="#c" x="898.8" y="490.3"/><use href="#c" x="927.8" y="452.3"/><use href="#c" x="878.1" y="515.1"/><use href="#c" x="914.1" y="464.0"/><use href="#c" x="933.0" y="456.1"/><use href="#c" x="950.6" y="439.2"/><use href="#c" x="876.0" y="507.6"/><use href="#c" x="856.6" y="530.5"/><use href="#c" x="915.6" y="463.5"/><use href="#c" x="912.9" y="471.6"/><use href="#c" x="881.1" y="500.3"/><use href="#c" x="912.2" y="477.9"/><use href="#c" x="903.2" y="489.6"/><use href="#c" x="930.8" y="450.0"/><use href="#c" x="900.9" y="488.1"/><use href="#c" x="887.0" y="496.3"/><use href="#c" x="884.1" y="489.4"/><use href="#c" x="917.8" y="455.1"/><use href="#c" x="909.3" y="474.2"/><use href="#c" x="885.2" y="493.4"/><use href="#c" x="888.2" y="485.3"/><use href="#c" x="906.2" y="472.6"/><use href="#c" x="900.6" y="483.4"/><use href="#c" x="887.1" y="501.6"/><use href="#c" x="900.9" y="471.1"/><use href="#c" x="893.8" y="485.1"/><use href="#c" x="847.8" y="538.0"/><use href="#c" x="865.4" y="515.8"/><use href="#c" x="930.1" y="441.3"/><use href="#c" x="940.2" y="454.5"/><use href="#c" x="949.2" y="431.5"/><use href="#c" x="867.2" y="511.0"/><use href="#c" x="948.4" y="446.5"/><use href="#c" x="906.0" y="480.8"/><use href="#c" x="890.8" y="504.6"/><use href="#c" x="899.1" y="492.3"/><use href="#c" x="870.3" y="520.4"/><use href="#c" x="903.5" y="487.7"/><use href="#c" x="895.0" y="491.4"/><use href="#c" x="925.5" y="469.3"/><use href="#c" x="898.0" y="483.7"/><use href="#c" x="920.2" y="461.9"/><use href="#c" x="872.6" y="517.5"/><use href="#c" x="883.6" y="497.6"/><use href="#c" x="874.6" y="506.3"/><use href="#c" x="852.6" y="531.2"/><use href="#c" x="891.4" y="488.1"/><use href="#c" x="888.8" y="494.7"/><use href="#c" x="909.3" y="478.1"/><use href="#c" x="875.4" y="518.4"/><use href="#c" x="891.2" y="487.4"/><use href="#c" x="916.3" y="473.3"/><use href="#c" x="945.5" y="441.0"/><use href="#c" x="894.0" y="493.6"/><use href="#c" x="955.3" y="425.3"/><use href="#c" x="896.4" y="481.3"/><use href="#c" x="892.5" y="501.6"/><use href="#c" x="942.5" y="438.9"/><use href="#c" x="855.0" y="533.8"/><use href="#c" x="941.3" y="434.5"/><use href="#c" x="906.4" y="486.1"/><use href="#c" x="850.1" y="534.4"/><use href="#c" x="945.8" y="447.5"/><use href="#c" x="905.1" y="473.4"/><use href="#c" x="898.2" y="486.3"/><use href="#c" x="887.4" y="485.3"/><use href="#c" x="950.4" y="441.4"/><use href="#c" x="927.2" y="449.4"/><use href="#c" x="924.7" y="454.6"/><use href="#c" x="883.1" y="501.3"/><use href="#c" x="937.4" y="448.7"/><use href="#c" x="884.2" y="499.2"/><use href="#c" x="935.8" y="442.4"/><use href="#c" x="937.8" y="454.2"/><use href="#c" x="906.3" y="487.9"/><use href="#c" x="897.2" y="485.7"/><use href="#c" x="909.6" y="481.0"/><use href="#c" x="873.4" y="508.7"/><use href="#c" x="931.5" y="457.3"/><use href="#c" x="884.1" y="499.4"/><use href="#c" x="890.0" y="485.3"/><use href="#c" x="867.9" y="519.0"/><use href="#c" x="863.9" y="514.5"/><use href="#c" x="884.3" y="504.7"/><use href="#c" x="924.5" y="450.1"/><use href="#c" x="924.6" y="464.4"/><use href="#c" x="879.8" y="499.6"/><use href="#c" x="939.8" y="435.7"/><use href="#c" x="915.5" y="451.6"/><use href="#c" x="931.7" y="444.1"/><use href="#c" x="940.7" y="437.9"/><use href="#c" x="939.7" y="451.6"/><use href="#c" x="935.0" y="445.5"/><use href="#c" x="899.4" y="471.2"/><use href="#c" x="925.5" y="469.9"/><use href="#c" x="946.7" y="452.8"/><use href="#c" x="951.2" y="427.0"/><use href="#c" x="926.8" y="473.1"/><use href="#c" x="950.5" y="430.1"/><use href="#c" x="915.7" y="457.2"/><use href="#c" x="927.3" y="449.0"/><use href="#c" x="921.4" y="461.8"/><use href="#c" x="911.9" y="461.7"/><use href="#c" x="953.6" y="430.1"/><use href="#c" x="886.1" y="496.1"/><use href="#c" x="848.6" y="534.0"/><use href="#c" x="904.6" y="482.7"/><use href="#c" x="898.7" y="476.9"/><use href="#c" x="909.7" y="479.3"/><use href="#c" x="928.9" y="462.8"/><use href="#c" x="883.2" y="490.6"/><use href="#c" x="891.4" y="481.9"/><use href="#c" x="924.8" y="450.4"/><use href="#c" x="920.9" y="462.7"/><use href="#c" x="922.3" y="463.7"/><use href="#c" x="888.8" y="501.7"/><use href="#c" x="957.1" y="432.7"/><use href="#c" x="893.6" y="489.3"/><use href="#c" x="890.4" y="492.2"/><use href="#c" x="921.7" y="459.2"/><use href="#c" x="908.6" y="470.5"/><use href="#c" x="891.4" y="493.5"/><use href="#c" x="870.8" y="507.9"/><use href="#c" x="920.0" y="453.7"/><use href="#c" x="919.6" y="461.9"/><use href="#c" x="951.0" y="440.5"/><use href="#c" x="890.6" y="488.9"/><use href="#c" x="932.3" y="460.5"/><use href="#c" x="911.1" y="469.0"/><use href="#c" x="857.2" y="533.2"/><use href="#c" x="950.2" y="448.4"/><use href="#c" x="905.3" y="465.8"/><use href="#c" x="844.1" y="538.1"/><use href="#c" x="923.0" y="467.8"/><use href="#c" x="843.6" y="541.7"/><use href="#c" x="930.2" y="453.9"/><use href="#c" x="935.5" y="444.9"/><use href="#c" x="890.1" y="494.7"/><use href="#c" x="950.1" y="427.7"/><use href="#c" x="926.0" y="456.9"/><use href="#c" x="913.4" y="471.9"/><use href="#c" x="945.2" y="440.3"/><use href="#c" x="931.5" y="464.7"/><use href="#c" x="941.2" y="438.5"/><use href="#c" x="868.6" y="522.4"/><use href="#c" x="933.7" y="437.3"/><use href="#c" x="945.5" y="431.0"/><use href="#c" x="932.9" y="447.5"/><use href="#c" x="859.8" y="529.5"/><use href="#c" x="892.9" y="488.0"/><use href="#c" x="956.9" y="428.9"/><use href="#c" x="888.7" y="490.3"/><use href="#c" x="885.1" y="488.6"/><use href="#c" x="942.9" y="444.2"/><use href="#c" x="867.6" y="521.1"/><use href="#c" x="854.2" y="530.5"/><use href="#c" x="850.1" y="532.8"/><use href="#c" x="909.3" y="479.7"/><use href="#c" x="936.1" y="446.8"/><use href="#c" x="951.0" y="433.0"/><use href="#c" x="929.0" y="447.9"/><use href="#c" x="923.1" y="475.8"/><use href="#c" x="919.3" y="471.6"/><use href="#c" x="881.0" y="510.3"/><use href="#c" x="930.6" y="445.4"/><use href="#c" x="898.4" y="487.1"/><use href="#c" x="911.4" y="456.4"/><use href="#c" x="916.3" y="464.0"/><use href="#c" x="893.7" y="491.8"/><use href="#c" x="934.4" y="457.9"/><use href="#c" x="883.0" y="495.6"/><use href="#c" x="899.4" y="475.5"/><use href="#c" x="898.6" y="474.9"/><use href="#c" x="937.2" y="443.2"/><use href="#c" x="883.6" y="501.9"/><use href="#c" x="916.0" y="467.0"/><use href="#c" x="907.8" y="481.6"/><use href="#c" x="902.2" y="483.2"/><use href="#c" x="908.0" y="481.7"/><use href="#c" x="878.8" y="506.7"/><use href="#c" x="917.2" y="463.2"/><use href="#c" x="890.1" y="493.0"/><use href="#c" x="923.1" y="449.1"/><use href="#c" x="858.1" y="526.9"/><use href="#c" x="914.9" y="462.0"/><use href="#c" x="915.5" y="466.1"/><use href="#c" x="850.9" y="528.4"/><use href="#c" x="913.0" y="479.8"/><use href="#c" x="919.1" y="471.7"/><use href="#c" x="917.2" y="463.0"/><use href="#c" x="907.1" y="471.5"/><use href="#c" x="941.2" y="452.4"/><use href="#c" x="878.1" y="500.8"/><use href="#c" x="951.2" y="442.9"/><use href="#c" x="852.0" y="536.7"/><use href="#c" x="950.8" y="433.5"/><use href="#c" x="867.4" y="523.9"/><use href="#c" x="911.5" y="475.7"/><use href="#c" x="878.3" y="501.3"/><use href="#c" x="942.9" y="439.0"/><use href="#c" x="917.9" y="455.5"/><use href="#c" x="854.0" y="530.6"/><use href="#c" x="905.3" y="477.3"/><use href="#c" x="867.3" y="522.8"/><use href="#c" x="941.3" y="439.8"/><use href="#c" x="846.8" y="532.8"/><use href="#c" x="915.1" y="455.4"/><use href="#c" x="916.6" y="455.4"/><use href="#c" x="929.2" y="454.8"/><use href="#c" x="908.4" y="463.6"/><use href="#c" x="890.8" y="487.5"/><use href="#c" x="922.2" y="454.6"/><use href="#c" x="946.3" y="437.4"/><use href="#c" x="949.5" y="444.7"/><use href="#c" x="880.6" y="514.9"/><use href="#c" x="929.5" y="449.3"/><use href="#c" x="863.5" y="526.3"/><use href="#c" x="935.0" y="441.6"/><use href="#c" x="947.2" y="451.1"/><use href="#c" x="922.6" y="460.8"/><use href="#c" x="906.1" y="478.3"/><use href="#c" x="896.6" y="474.7"/><use href="#c" x="890.2" y="486.9"/><use href="#c" x="910.5" y="465.9"/><use href="#c" x="911.7" y="456.2"/><use href="#c" x="881.6" y="501.0"/><use href="#c" x="893.7" y="486.5"/><use href="#c" x="889.9" y="495.7"/><use href="#c" x="907.0" y="461.3"/><use href="#c" x="886.8" y="499.6"/><use href="#c" x="922.8" y="458.5"/><use href="#c" x="914.0" y="463.3"/><use href="#c" x="848.2" y="533.7"/><use href="#c" x="883.9" y="496.1"/><use href="#c" x="925.5" y="455.5"/><use href="#c" x="885.7" y="502.1"/><use href="#c" x="944.9" y="437.4"/><use href="#c" x="852.2" y="532.5"/><use href="#c" x="901.4" y="468.1"/><use href="#c" x="871.0" y="521.4"/><use href="#c" x="866.1" y="526.7"/><use href="#c" x="906.2" y="478.2"/><use href="#c" x="894.6" y="491.8"/><use href="#c" x="933.1" y="456.8"/><use href="#c" x="895.5" y="495.2"/><use href="#c" x="944.8" y="447.4"/><use href="#c" x="902.0" y="478.9"/><use href="#c" x="897.6" y="492.8"/><use href="#c" x="910.8" y="465.2"/><use href="#c" x="815.5" y="565.6"/><use href="#c" x="941.7" y="445.4"/><use href="#c" x="933.3" y="463.6"/><use href="#c" x="927.9" y="443.6"/><use href="#c" x="936.8" y="455.0"/><use href="#c" x="922.0" y="468.7"/><use href="#c" x="880.0" y="500.4"/><use href="#c" x="907.2" y="466.3"/><use href="#c" x="931.6" y="455.0"/><use href="#c" x="923.7" y="468.9"/><use href="#c" x="892.6" y="482.2"/><use href="#c" x="897.5" y="476.8"/><use href="#c" x="911.6" y="467.3"/><use href="#c" x="886.3" y="508.5"/><use href="#c" x="887.6" y="496.9"/><use href="#c" x="912.7" y="471.5"/><use href="#c" x="919.3" y="470.2"/><use href="#c" x="924.2" y="455.5"/><use href="#c" x="909.8" y="461.2"/><use href="#c" x="891.2" y="490.1"/><use href="#c" x="926.7" y="449.6"/><use href="#c" x="938.1" y="450.7"/><use href="#c" x="938.8" y="461.5"/><use href="#c" x="948.7" y="448.8"/><use href="#c" x="874.6" y="520.4"/><use href="#c" x="877.1" y="505.6"/><use href="#c" x="923.8" y="455.4"/><use href="#c" x="943.1" y="438.8"/><use href="#c" x="858.6" y="525.8"/><use href="#c" x="892.7" y="485.5"/><use href="#c" x="947.1" y="454.4"/><use href="#c" x="868.4" y="510.2"/><use href="#c" x="942.5" y="447.2"/><use href="#c" x="872.0" y="518.3"/><use href="#c" x="882.9" y="497.1"/><use href="#c" x="947.3" y="437.8"/><use href="#c" x="884.3" y="493.0"/><use href="#c" x="926.2" y="449.7"/><use href="#c" x="942.6" y="459.3"/><use href="#c" x="914.0" y="473.2"/><use href="#c" x="909.0" y="467.0"/><use href="#c" x="837.6" y="544.0"/><use href="#c" x="912.8" y="462.6"/><use href="#c" x="861.1" y="526.4"/><use href="#c" x="918.9" y="453.9"/><use href="#c" x="897.7" y="491.8"/><use href="#c" x="888.9" y="499.1"/><use href="#c" x="946.6" y="434.2"/><use href="#c" x="916.9" y="467.7"/><use href="#c" x="940.3" y="444.8"/><use href="#c" x="945.5" y="450.2"/><use href="#c" x="874.7" y="518.8"/><use href="#c" x="918.3" y="468.1"/><use href="#c" x="908.8" y="484.8"/><use href="#c" x="874.8" y="509.7"/><use href="#c" x="914.5" y="461.3"/><use href="#c" x="959.7" y="423.5"/><use href="#c" x="918.2" y="454.9"/><use href="#c" x="929.9" y="463.6"/><use href="#c" x="887.2" y="498.5"/><use href="#c" x="940.6" y="453.2"/><use href="#c" x="900.2" y="474.5"/><use href="#c" x="937.2" y="443.0"/><use href="#c" x="893.5" y="483.3"/><use href="#c" x="898.9" y="490.7"/><use href="#c" x="914.4" y="473.0"/><use href="#c" x="906.8" y="465.0"/><use href="#c" x="885.8" y="496.1"/><use href="#c" x="893.0" y="489.9"/><use href="#c" x="934.1" y="464.1"/><use href="#c" x="868.1" y="525.3"/><use href="#c" x="898.5" y="487.9"/><use href="#c" x="908.6" y="461.3"/><use href="#c" x="830.5" y="552.0"/><use href="#c" x="948.8" y="441.6"/><use href="#c" x="919.1" y="460.2"/><use href="#c" x="883.0" y="497.0"/><use href="#c" x="906.2" y="465.5"/><use href="#c" x="885.1" y="510.4"/><use href="#c" x="934.8" y="445.5"/><use href="#c" x="900.8" y="480.5"/><use href="#c" x="897.7" y="484.3"/><use href="#c" x="862.5" y="522.5"/><use href="#c" x="920.5" y="454.1"/><use href="#c" x="891.9" y="499.6"/><use href="#c" x="932.1" y="443.5"/><use href="#c" x="938.8" y="437.8"/><use href="#c" x="945.5" y="440.0"/><use href="#c" x="868.2" y="522.3"/><use href="#c" x="932.5" y="467.9"/><use href="#c" x="882.7" y="507.5"/><use href="#c" x="914.5" y="475.6"/><use href="#c" x="931.3" y="453.2"/><use href="#c" x="923.7" y="467.0"/><use href="#c" x="936.3" y="443.9"/><use href="#c" x="892.0" y="492.3"/><use href="#c" x="935.6" y="457.2"/><use href="#c" x="920.0" y="465.0"/><use href="#c" x="893.5" y="493.1"/><use href="#c" x="859.5" y="532.6"/><use href="#c" x="935.6" y="447.1"/><use href="#c" x="923.4" y="468.4"/><use href="#c" x="862.5" y="521.4"/><use href="#c" x="912.5" y="470.4"/><use href="#c" x="918.2" y="476.1"/><use href="#c" x="899.1" y="477.4"/><use href="#c" x="881.0" y="501.1"/><use href="#c" x="909.3" y="464.6"/><use href="#c" x="878.3" y="509.1"/><use href="#c" x="882.3" y="502.0"/><use href="#c" x="891.4" y="497.3"/><use href="#c" x="905.9" y="477.8"/><use href="#c" x="897.7" y="487.7"/><use href="#c" x="876.9" y="499.6"/><use href="#c" x="885.8" y="508.1"/><use href="#c" x="899.3" y="470.6"/><use href="#c" x="876.7" y="510.8"/><use href="#c" x="881.2" y="504.3"/><use href="#c" x="948.6" y="427.0"/><use href="#c" x="935.7" y="444.7"/><use href="#c" x="908.1" y="468.0"/><use href="#c" x="908.6" y="486.0"/><use href="#c" x="862.9" y="521.8"/><use href="#c" x="911.2" y="461.7"/><use href="#c" x="920.4" y="466.6"/><use href="#c" x="930.9" y="456.8"/><use href="#c" x="930.2" y="444.5"/><use href="#c" x="944.8" y="435.6"/><use href="#c" x="900.6" y="473.9"/><use href="#c" x="889.1" y="494.2"/><use href="#c" x="897.0" y="479.4"/><use href="#c" x="881.5" y="495.5"/><use href="#c" x="928.5" y="463.5"/><use href="#c" x="888.4" y="498.3"/><use href="#c" x="916.5" y="472.4"/><use href="#c" x="914.9" y="475.8"/><use href="#c" x="909.6" y="465.6"/><use href="#c" x="910.7" y="466.1"/><use href="#c" x="818.1" y="565.1"/><use href="#c" x="825.8" y="555.7"/><use href="#c" x="830.0" y="548.6"/><use href="#c" x="834.2" y="550.7"/><use href="#c" x="891.4" y="517.0"/><use href="#c" x="875.7" y="528.6"/><use href="#c" x="865.8" y="532.9"/><use href="#c" x="862.9" y="501.4"/><use href="#c" x="963.0" y="428.5"/><use href="#c" x="950.1" y="427.0"/><use href="#c" x="938.7" y="429.9"/><use href="#c" x="931.3" y="481.4"/><use href="#c" x="947.1" y="461.4"/><use href="#c" x="954.3" y="445.6"/><use href="#c" x="1065.7" y="348.8"/><use href="#c" x="1047.5" y="375.1"/>
<use href="#s" x="898.3" y="482.6"/><use href="#s" x="895.0" y="487.6"/><use href="#s" x="889.5" y="490.0"/><use href="#s" x="904.0" y="482.6"/>
<line x1="794.1" y1="586.9" x2="1374.6" y2="1.9" stroke="#000" stroke-width="2.1"/>
</g>
<rect x="812.9" y="20.3" width="470.4" height="123.6" rx="6.2" ry="6.2" fill="#fff" stroke="#ccc" stroke-width="2.7"/>
<use href="#c" x="866.2" y="55.0"/>
<use href="#s" x="866.2" y="111.4"/>
<text x="934.2" y="65.0" font-size="38.5">SG-38 in test set</text>
<text x="934.2" y="121.2" font-size="38.5">SG-38 in train set</text>
<rect x="794.1" y="1.9" width="580.5" height="585.0" fill="none" stroke="#000" stroke-width="2.2"/>
<path d="M794.10 586.9v9.7M794.1 586.90h-9.7M899.65 586.9v9.7M794.1 480.54h-9.7M1005.19 586.9v9.7M794.1 374.17h-9.7M1110.74 586.9v9.7M794.1 267.81h-9.7M1216.28 586.9v9.7M794.1 161.45h-9.7M1321.83 586.9v9.7M794.1 55.08h-9.7" stroke="#000" stroke-width="2.2" fill="none"/>
<text x="794.1" y="635.3" font-size="38.5" text-anchor="middle">−1</text>
<text x="775.0" y="601.5" font-size="38.5" text-anchor="end">−1</text>
<text x="899.6" y="635.3" font-size="38.5" text-anchor="middle">0</text>
<text x="775.0" y="495.1" font-size="38.5" text-anchor="end">0</text>
<text x="1005.2" y="635.3" font-size="38.5" text-anchor="middle">1</text>
<text x="775.0" y="388.8" font-size="38.5" text-anchor="end">1</text>
<text x="1110.7" y="635.3" font-size="38.5" text-anchor="middle">2</text>
<text x="775.0" y="282.4" font-size="38.5" text-anchor="end">2</text>
<text x="1216.3" y="635.3" font-size="38.5" text-anchor="middle">3</text>
<text x="775.0" y="176.0" font-size="38.5" text-anchor="end">3</text>
<text x="1321.8" y="635.3" font-size="38.5" text-anchor="middle">4</text>
<text x="775.0" y="69.7" font-size="38.5" text-anchor="end">4</text>
<text x="1236.7" y="571.0" font-size="54.6">(b)</text>
<text x="944.7" y="689.2" font-size="38.5" class="i">E</text>
<text x="971.0" y="674.9" font-size="26.95" class="i">DFT</text>
<text x="967.7" y="699.1" font-size="26.95" class="i">f</text>
<text x="1036.0" y="689.2" font-size="38.5">(eV/atom)</text>
<g clip-path="url(#cp2)">
<use href="#c" x="1596.5" y="479.0"/><use href="#c" x="1595.8" y="481.5"/><use href="#c" x="1592.6" y="486.0"/><use href="#c" x="1552.0" y="527.9"/><use href="#c" x="1538.3" y="540.6"/><use href="#c" x="1602.6" y="472.9"/><use href="#c" x="1578.0" y="498.0"/><use href="#c" x="1532.8" y="546.0"/><use href="#c" x="1599.9" y="480.5"/><use href="#c" x="1605.4" y="470.9"/><use href="#c" x="1553.8" y="527.4"/><use href="#c" x="1592.8" y="486.2"/><use href="#c" x="1538.7" y="541.1"/><use href="#c" x="1565.0" y="511.4"/><use href="#c" x="1593.1" y="484.2"/><use href="#c" x="1562.8" y="514.2"/><use href="#c" x="1570.9" y="506.5"/><use href="#c" x="1541.3" y="538.4"/><use href="#c" x="1592.8" y="483.9"/><use href="#c" x="1569.4" y="505.6"/><use href="#c" x="1551.0" y="527.2"/><use href="#c" x="1590.0" y="486.5"/><use href="#c" x="1605.0" y="473.0"/><use href="#c" x="1572.4" y="503.4"/><use href="#c" x="1587.1" y="489.3"/><use href="#c" x="1606.0" y="469.9"/><use href="#c" x="1534.9" y="542.6"/><use href="#c" x="1576.9" y="497.5"/><use href="#c" x="1604.1" y="474.4"/><use href="#c" x="1541.3" y="537.6"/><use href="#c" x="1549.1" y="530.3"/><use href="#c" x="1573.3" y="503.4"/><use href="#c" x="1519.0" y="558.0"/><use href="#c" x="1521.0" y="550.0"/><use href="#c" x="1525.0" y="544.0"/><use href="#c" x="1530.0" y="536.0"/><use href="#c" x="1526.3" y="552.9"/><use href="#c" x="1568.0" y="499.0"/><use href="#c" x="1586.0" y="503.9"/><use href="#c" x="1594.0" y="473.1"/><use href="#c" x="1647.7" y="449.7"/><use href="#c" x="1649.8" y="450.8"/><use href="#c" x="1651.4" y="449.2"/><use href="#c" x="1653.5" y="450.2"/><use href="#c" x="1649.3" y="448.6"/><use href="#c" x="1632.5" y="464.2"/><use href="#c" x="1650.7" y="468.9"/><use href="#c" x="1665.5" y="465.8"/><use href="#c" x="1669.9" y="474.2"/><use href="#c" x="1764.5" y="418.6"/><use href="#c" x="1931.6" y="420.5"/><use href="#c" x="1684.5" y="489.6"/><use href="#c" x="1701.7" y="487.6"/><use href="#c" x="1869.0" y="446.5"/><use href="#c" x="1859.2" y="445.4"/><use href="#c" x="1826.9" y="463.1"/><use href="#c" x="1875.9" y="433.6"/><use href="#c" x="1794.9" y="471.0"/><use href="#c" x="1739.2" y="467.9"/><use href="#c" x="1841.5" y="458.1"/><use href="#c" x="2054.0" y="386.3"/><use href="#c" x="1693.8" y="487.6"/><use href="#c" x="1834.7" y="472.9"/><use href="#c" x="1777.4" y="441.9"/><use href="#c" x="1684.9" y="470.8"/><use href="#c" x="1707.5" y="478.7"/><use href="#c" x="1838.8" y="455.6"/><use href="#c" x="1835.3" y="482.3"/><use href="#c" x="1746.5" y="460.4"/><use href="#c" x="1990.5" y="419.8"/><use href="#c" x="1836.0" y="438.6"/><use href="#c" x="1879.2" y="423.1"/><use href="#c" x="1717.0" y="492.6"/><use href="#c" x="2059.9" y="381.4"/><use href="#c" x="1921.1" y="456.1"/><use href="#c" x="1821.9" y="463.1"/><use href="#c" x="1704.6" y="480.4"/><use href="#c" x="1863.6" y="440.5"/><use href="#c" x="1756.2" y="480.7"/><use href="#c" x="1947.7" y="422.4"/><use href="#c" x="1749.4" y="460.3"/><use href="#c" x="1802.1" y="447.8"/><use href="#c" x="2007.9" y="404.4"/><use href="#c" x="1872.6" y="443.8"/><use href="#c" x="1705.5" y="494.7"/><use href="#c" x="1831.3" y="442.2"/><use href="#c" x="1720.7" y="466.8"/><use href="#c" x="1737.0" y="453.3"/><use href="#c" x="1841.0" y="474.1"/><use href="#c" x="1712.6" y="509.6"/><use href="#c" x="1810.9" y="462.6"/><use href="#c" x="1916.3" y="434.1"/><use href="#c" x="1720.9" y="477.9"/><use href="#c" x="1941.2" y="436.0"/><use href="#c" x="1857.8" y="459.5"/><use href="#c" x="1930.3" y="444.1"/><use href="#c" x="2048.1" y="389.7"/><use href="#c" x="1739.9" y="487.9"/><use href="#c" x="1945.7" y="435.3"/><use href="#c" x="1773.6" y="481.5"/><use href="#c" x="1847.3" y="439.4"/><use href="#c" x="1919.2" y="438.0"/><use href="#c" x="1770.5" y="480.9"/><use href="#c" x="1824.6" y="473.5"/><use href="#c" x="1918.9" y="454.2"/><use href="#c" x="2039.3" y="391.8"/><use href="#c" x="1766.3" y="486.0"/><use href="#c" x="1755.0" y="503.0"/><use href="#c" x="1754.6" y="470.5"/><use href="#c" x="1822.1" y="497.3"/><use href="#c" x="1780.8" y="436.6"/><use href="#c" x="1837.5" y="418.6"/><use href="#c" x="1801.5" y="423.6"/><use href="#c" x="1929.5" y="412.8"/><use href="#c" x="1937.2" y="425.6"/><use href="#c" x="1824.2" y="416.8"/><use href="#c" x="1798.7" y="508.6"/><use href="#c" x="1822.5" y="431.4"/><use href="#c" x="1693.2" y="480.0"/><use href="#c" x="1890.9" y="432.1"/><use href="#c" x="1898.1" y="458.4"/><use href="#c" x="1872.6" y="458.2"/><use href="#c" x="1709.3" y="458.7"/><use href="#c" x="1681.2" y="493.3"/><use href="#c" x="1779.0" y="474.8"/><use href="#c" x="1830.3" y="433.4"/><use href="#c" x="1913.4" y="406.1"/><use href="#c" x="1889.3" y="448.0"/><use href="#c" x="1836.0" y="457.1"/><use href="#c" x="1742.3" y="509.6"/><use href="#c" x="1895.1" y="425.8"/><use href="#c" x="1809.3" y="460.7"/><use href="#c" x="1754.8" y="457.8"/><use href="#c" x="1914.2" y="447.7"/><use href="#c" x="1863.5" y="430.8"/><use href="#c" x="1879.7" y="469.9"/><use href="#c" x="1997.9" y="395.0"/><use href="#c" x="2005.7" y="400.3"/><use href="#c" x="1756.1" y="492.3"/><use href="#c" x="1681.6" y="480.9"/><use href="#c" x="1739.0" y="495.2"/><use href="#c" x="1924.2" y="450.9"/><use href="#c" x="1799.7" y="500.9"/><use href="#c" x="1805.3" y="475.9"/><use href="#c" x="1945.1" y="419.9"/><use href="#c" x="1953.4" y="411.3"/><use href="#c" x="1918.9" y="472.1"/><use href="#c" x="1767.5" y="476.4"/><use href="#c" x="1950.8" y="405.6"/><use href="#c" x="1899.2" y="462.8"/><use href="#c" x="1768.7" y="477.2"/><use href="#c" x="1884.4" y="459.9"/><use href="#c" x="1671.7" y="474.4"/><use href="#c" x="1935.8" y="444.1"/><use href="#c" x="1711.6" y="469.6"/><use href="#c" x="1883.4" y="427.6"/><use href="#c" x="1871.9" y="454.7"/><use href="#c" x="1882.1" y="444.3"/><use href="#c" x="1871.5" y="464.6"/><use href="#c" x="1825.3" y="418.9"/><use href="#c" x="1818.3" y="464.2"/><use href="#c" x="1789.9" y="468.2"/><use href="#c" x="1896.3" y="466.3"/><use href="#c" x="1693.8" y="467.9"/><use href="#c" x="1774.7" y="463.7"/><use href="#c" x="1818.1" y="495.7"/><use href="#c" x="1984.2" y="409.4"/><use href="#c" x="1744.1" y="482.0"/><use href="#c" x="1771.0" y="500.4"/><use href="#c" x="1703.5" y="487.8"/><use href="#c" x="1739.7" y="468.7"/><use href="#c" x="1799.7" y="479.1"/><use href="#c" x="1953.1" y="423.1"/><use href="#c" x="1719.4" y="463.2"/><use href="#c" x="1891.5" y="449.0"/><use href="#c" x="1848.2" y="437.3"/><use href="#c" x="1964.1" y="426.3"/><use href="#c" x="1939.9" y="425.5"/><use href="#c" x="1822.9" y="438.2"/><use href="#c" x="1846.2" y="460.9"/><use href="#c" x="1688.7" y="475.0"/><use href="#c" x="1707.2" y="486.3"/><use href="#c" x="1750.7" y="491.0"/><use href="#c" x="1699.9" y="493.1"/><use href="#c" x="1844.4" y="447.6"/><use href="#c" x="1837.2" y="452.8"/><use href="#c" x="1902.3" y="436.9"/><use href="#c" x="1943.1" y="416.8"/><use href="#c" x="1803.5" y="448.4"/><use href="#c" x="1803.8" y="441.7"/><use href="#c" x="1916.5" y="425.1"/><use href="#c" x="1895.4" y="445.2"/><use href="#c" x="1927.9" y="448.1"/><use href="#c" x="2055.5" y="386.1"/><use href="#c" x="1889.5" y="462.7"/><use href="#c" x="1755.9" y="495.8"/><use href="#c" x="1832.5" y="494.4"/><use href="#c" x="1715.4" y="474.7"/><use href="#c" x="1834.1" y="468.4"/><use href="#c" x="1797.8" y="463.9"/><use href="#c" x="1751.1" y="500.1"/><use href="#c" x="1994.4" y="406.0"/><use href="#c" x="1889.7" y="481.8"/><use href="#c" x="2042.4" y="390.8"/><use href="#c" x="1911.8" y="441.3"/><use href="#c" x="1767.9" y="447.5"/><use href="#c" x="1895.4" y="453.2"/><use href="#c" x="1883.7" y="422.5"/><use href="#c" x="1819.8" y="455.0"/><use href="#c" x="1812.3" y="501.8"/><use href="#c" x="1716.3" y="471.0"/><use href="#c" x="1798.6" y="470.0"/><use href="#c" x="1692.4" y="497.7"/><use href="#c" x="1760.5" y="477.2"/><use href="#c" x="1686.3" y="481.1"/><use href="#c" x="1886.8" y="435.9"/><use href="#c" x="1830.6" y="478.9"/><use href="#c" x="1832.9" y="488.6"/><use href="#c" x="1957.7" y="444.2"/><use href="#c" x="1750.5" y="468.7"/><use href="#c" x="1761.4" y="493.6"/><use href="#c" x="1750.8" y="484.8"/><use href="#c" x="1789.4" y="436.4"/><use href="#c" x="1870.1" y="452.6"/><use href="#c" x="1936.4" y="407.8"/><use href="#c" x="1852.8" y="490.1"/><use href="#c" x="1820.8" y="457.3"/><use href="#c" x="1786.4" y="466.3"/><use href="#c" x="1799.9" y="445.6"/><use href="#c" x="1972.3" y="435.3"/><use href="#c" x="1839.7" y="436.6"/><use href="#c" x="2028.2" y="386.3"/><use href="#c" x="1762.3" y="520.4"/><use href="#c" x="1909.2" y="449.3"/><use href="#c" x="1977.7" y="434.0"/><use href="#c" x="1868.9" y="482.8"/><use href="#c" x="1882.8" y="414.9"/><use href="#c" x="1870.9" y="412.0"/><use href="#c" x="1971.4" y="425.5"/><use href="#c" x="1885.2" y="417.0"/><use href="#c" x="1818.6" y="466.3"/><use href="#c" x="1925.7" y="404.5"/><use href="#c" x="1929.4" y="425.5"/><use href="#c" x="1718.7" y="454.7"/><use href="#c" x="1856.3" y="435.8"/><use href="#c" x="2032.1" y="399.7"/><use href="#c" x="2029.1" y="396.9"/><use href="#c" x="1978.0" y="434.0"/><use href="#c" x="1848.7" y="470.7"/><use href="#c" x="1926.0" y="404.6"/><use href="#c" x="1819.9" y="483.5"/><use href="#c" x="1876.4" y="462.3"/><use href="#c" x="1818.1" y="437.2"/><use href="#c" x="1791.0" y="462.7"/><use href="#c" x="1810.8" y="482.2"/><use href="#c" x="1771.8" y="465.6"/><use href="#c" x="1881.0" y="453.1"/><use href="#c" x="1863.3" y="435.0"/><use href="#c" x="1796.9" y="481.1"/><use href="#c" x="1874.6" y="411.6"/><use href="#c" x="1936.5" y="444.2"/><use href="#c" x="1893.4" y="461.6"/><use href="#c" x="1893.4" y="444.3"/><use href="#c" x="1776.4" y="483.2"/><use href="#c" x="1843.9" y="464.2"/><use href="#c" x="1729.1" y="493.2"/><use href="#c" x="1718.6" y="501.9"/><use href="#c" x="1732.6" y="478.7"/><use href="#c" x="1924.0" y="449.6"/><use href="#c" x="1881.7" y="438.2"/><use href="#c" x="1793.2" y="442.3"/><use href="#c" x="1734.5" y="489.1"/><use href="#c" x="1871.8" y="464.8"/><use href="#c" x="2022.5" y="409.0"/><use href="#c" x="1939.5" y="457.6"/><use href="#c" x="1840.0" y="480.9"/><use href="#c" x="1884.5" y="452.4"/><use href="#c" x="1928.6" y="451.7"/><use href="#c" x="1700.7" y="465.9"/><use href="#c" x="2031.3" y="401.1"/><use href="#c" x="1971.7" y="418.0"/><use href="#c" x="1746.7" y="512.7"/><use href="#c" x="1835.6" y="457.9"/><use href="#c" x="2055.1" y="387.7"/><use href="#c" x="1898.1" y="462.7"/><use href="#c" x="1940.2" y="425.8"/><use href="#c" x="1732.9" y="500.5"/><use href="#c" x="1729.7" y="503.1"/><use href="#c" x="1893.9" y="457.8"/><use href="#c" x="1853.3" y="445.6"/><use href="#c" x="1717.5" y="478.3"/><use href="#c" x="1871.5" y="464.9"/><use href="#c" x="1899.1" y="444.5"/><use href="#c" x="1915.6" y="436.1"/><use href="#c" x="1929.1" y="427.5"/><use href="#c" x="1764.9" y="509.3"/><use href="#c" x="1716.2" y="496.6"/><use href="#c" x="1745.9" y="471.5"/><use href="#c" x="1757.7" y="470.3"/><use href="#c" x="1841.7" y="469.5"/><use href="#c" x="1997.8" y="423.3"/><use href="#c" x="1743.8" y="469.1"/><use href="#c" x="1768.9" y="468.4"/><use href="#c" x="1837.4" y="443.9"/><use href="#c" x="2008.7" y="409.3"/><use href="#c" x="1849.6" y="458.8"/><use href="#c" x="1813.9" y="427.8"/><use href="#c" x="1731.7" y="514.5"/><use href="#c" x="1846.4" y="459.0"/><use href="#c" x="1868.2" y="431.6"/><use href="#c" x="2034.4" y="408.6"/><use href="#c" x="1915.2" y="406.5"/><use href="#c" x="1966.3" y="424.4"/><use href="#c" x="1723.5" y="510.3"/><use href="#c" x="1930.0" y="440.6"/><use href="#c" x="1766.9" y="461.4"/><use href="#c" x="1780.2" y="453.9"/><use href="#c" x="1745.8" y="470.9"/><use href="#c" x="1833.5" y="465.7"/><use href="#c" x="1770.2" y="499.9"/><use href="#c" x="1828.8" y="466.9"/><use href="#c" x="1882.8" y="428.3"/><use href="#c" x="1869.7" y="451.4"/><use href="#c" x="1697.6" y="459.3"/><use href="#c" x="1680.7" y="492.2"/><use href="#c" x="1890.6" y="465.6"/><use href="#c" x="1961.9" y="418.9"/><use href="#c" x="1728.5" y="470.3"/><use href="#c" x="1755.5" y="483.9"/><use href="#c" x="1904.1" y="453.7"/><use href="#c" x="1930.3" y="448.5"/><use href="#c" x="1794.0" y="472.5"/><use href="#c" x="1699.3" y="455.3"/><use href="#c" x="1831.0" y="434.6"/><use href="#c" x="1847.3" y="453.2"/><use href="#c" x="1799.3" y="490.4"/><use href="#c" x="1841.6" y="453.2"/><use href="#c" x="1889.7" y="465.5"/><use href="#c" x="1947.5" y="432.7"/><use href="#c" x="1932.1" y="465.6"/><use href="#c" x="1801.1" y="452.4"/><use href="#c" x="1864.5" y="411.4"/><use href="#c" x="1686.1" y="473.5"/><use href="#c" x="1774.1" y="454.3"/><use href="#c" x="1945.4" y="409.1"/><use href="#c" x="1953.6" y="401.0"/><use href="#c" x="1704.0" y="492.4"/><use href="#c" x="1753.0" y="462.2"/><use href="#c" x="1904.6" y="444.9"/><use href="#c" x="1835.4" y="440.7"/><use href="#c" x="1734.2" y="477.3"/><use href="#c" x="1973.3" y="434.1"/><use href="#c" x="1675.5" y="468.5"/><use href="#c" x="1739.5" y="489.7"/><use href="#c" x="1841.5" y="443.5"/><use href="#c" x="1728.3" y="496.1"/><use href="#c" x="1750.3" y="511.6"/><use href="#c" x="1911.4" y="412.9"/><use href="#c" x="1805.3" y="479.1"/><use href="#c" x="1919.1" y="465.6"/><use href="#c" x="2004.4" y="405.1"/><use href="#c" x="1677.8" y="481.7"/><use href="#c" x="1881.9" y="464.5"/><use href="#c" x="1826.1" y="440.4"/><use href="#c" x="1743.2" y="509.7"/><use href="#c" x="1862.6" y="450.9"/><use href="#c" x="1969.3" y="433.1"/><use href="#c" x="1874.3" y="422.7"/><use href="#c" x="1837.0" y="436.1"/><use href="#c" x="1918.2" y="459.5"/><use href="#c" x="1882.2" y="458.9"/><use href="#c" x="1976.9" y="422.6"/><use href="#c" x="1717.8" y="510.5"/><use href="#c" x="1819.4" y="420.2"/><use href="#c" x="1694.9" y="500.6"/><use href="#c" x="1779.4" y="495.5"/><use href="#c" x="1930.7" y="438.4"/><use href="#c" x="1770.5" y="475.1"/><use href="#c" x="1918.6" y="445.3"/><use href="#c" x="1909.9" y="452.4"/><use href="#c" x="1893.2" y="431.0"/><use href="#c" x="1848.7" y="453.7"/><use href="#c" x="1702.9" y="484.8"/><use href="#c" x="1733.7" y="452.2"/><use href="#c" x="1719.4" y="469.5"/><use href="#c" x="1947.8" y="420.5"/><use href="#c" x="1733.9" y="460.2"/><use href="#c" x="1760.0" y="477.8"/><use href="#c" x="1923.0" y="473.0"/><use href="#c" x="1925.9" y="435.5"/><use href="#c" x="2012.8" y="409.0"/><use href="#c" x="1921.0" y="445.1"/><use href="#c" x="1788.3" y="464.5"/><use href="#c" x="1917.4" y="409.2"/><use href="#c" x="1818.2" y="438.9"/><use href="#c" x="1858.7" y="437.7"/><use href="#c" x="1772.3" y="455.0"/><use href="#c" x="1942.9" y="427.3"/><use href="#c" x="1837.8" y="463.6"/><use href="#c" x="1765.7" y="462.6"/><use href="#c" x="1762.1" y="483.3"/><use href="#c" x="1935.5" y="404.0"/><use href="#c" x="1736.8" y="452.3"/><use href="#c" x="1861.3" y="426.7"/><use href="#c" x="1694.3" y="486.8"/><use href="#c" x="1937.8" y="447.2"/><use href="#c" x="1843.8" y="484.4"/><use href="#c" x="1841.8" y="476.2"/><use href="#c" x="1743.6" y="471.5"/><use href="#c" x="1794.9" y="459.0"/><use href="#c" x="1756.3" y="495.4"/><use href="#c" x="1790.8" y="502.0"/><use href="#c" x="1932.0" y="433.3"/><use href="#c" x="1920.0" y="408.7"/><use href="#c" x="1694.7" y="472.3"/><use href="#c" x="1853.1" y="452.2"/><use href="#c" x="1866.2" y="437.1"/><use href="#c" x="1889.6" y="449.3"/><use href="#c" x="1853.0" y="430.8"/><use href="#c" x="1770.0" y="450.5"/><use href="#c" x="1867.8" y="484.6"/><use href="#c" x="1693.9" y="458.2"/><use href="#c" x="1693.4" y="482.3"/><use href="#c" x="1784.5" y="460.9"/><use href="#c" x="1719.0" y="469.7"/><use href="#c" x="1795.4" y="434.6"/><use href="#c" x="1829.0" y="456.6"/><use href="#c" x="1773.9" y="472.5"/><use href="#c" x="1922.6" y="442.4"/><use href="#c" x="1989.2" y="390.1"/><use href="#c" x="1763.2" y="494.8"/><use href="#c" x="1901.8" y="468.3"/><use href="#c" x="1689.0" y="498.3"/><use href="#c" x="1899.3" y="427.4"/><use href="#c" x="1700.0" y="480.4"/><use href="#c" x="1705.6" y="509.1"/><use href="#c" x="1887.8" y="414.4"/><use href="#c" x="1703.2" y="501.2"/><use href="#c" x="1713.5" y="498.2"/><use href="#c" x="1788.7" y="465.5"/><use href="#c" x="1887.8" y="435.8"/><use href="#c" x="1852.8" y="436.1"/><use href="#c" x="1724.8" y="508.3"/><use href="#c" x="1978.4" y="397.6"/><use href="#c" x="1703.4" y="478.6"/><use href="#c" x="1774.8" y="471.5"/><use href="#c" x="1962.4" y="429.8"/><use href="#c" x="1917.2" y="421.5"/><use href="#c" x="1875.6" y="479.3"/><use href="#c" x="1959.1" y="418.6"/><use href="#c" x="1783.6" y="444.0"/><use href="#c" x="1796.6" y="461.7"/><use href="#c" x="1687.6" y="473.8"/><use href="#c" x="1747.3" y="503.7"/><use href="#c" x="1901.8" y="424.5"/><use href="#c" x="1940.2" y="447.4"/><use href="#c" x="1909.0" y="443.4"/><use href="#c" x="1730.0" y="494.9"/><use href="#c" x="1883.4" y="439.8"/><use href="#c" x="1686.3" y="499.1"/><use href="#c" x="1735.5" y="506.4"/><use href="#c" x="2008.7" y="412.0"/><use href="#c" x="1746.2" y="477.0"/><use href="#c" x="1881.4" y="445.2"/><use href="#c" x="1789.2" y="479.3"/><use href="#c" x="1742.7" y="514.9"/><use href="#c" x="1817.7" y="491.4"/><use href="#c" x="1857.8" y="480.5"/><use href="#c" x="2001.3" y="404.4"/><use href="#c" x="1756.6" y="486.7"/><use href="#c" x="1899.9" y="410.7"/><use href="#c" x="1910.8" y="410.7"/><use href="#c" x="1753.5" y="486.8"/><use href="#c" x="1915.5" y="444.9"/><use href="#c" x="1858.5" y="452.9"/><use href="#c" x="1858.9" y="418.5"/><use href="#c" x="1802.4" y="472.9"/><use href="#c" x="1816.8" y="420.8"/><use href="#c" x="1738.2" y="496.1"/><use href="#c" x="1853.9" y="460.0"/><use href="#c" x="1740.6" y="519.6"/><use href="#c" x="1891.1" y="458.9"/><use href="#c" x="1817.8" y="426.9"/><use href="#c" x="1713.2" y="490.3"/><use href="#c" x="1773.6" y="452.2"/><use href="#c" x="1929.1" y="450.1"/><use href="#c" x="1736.2" y="471.0"/><use href="#c" x="1688.2" y="475.0"/><use href="#c" x="1751.1" y="474.4"/><use href="#c" x="1797.7" y="449.2"/><use href="#c" x="1806.2" y="479.0"/><use href="#c" x="1836.6" y="447.1"/><use href="#c" x="1872.0" y="434.5"/><use href="#c" x="1885.4" y="437.2"/><use href="#c" x="1730.8" y="477.3"/><use href="#c" x="1794.1" y="479.2"/><use href="#c" x="1903.8" y="440.2"/><use href="#c" x="1675.1" y="473.6"/><use href="#c" x="1819.0" y="433.9"/><use href="#c" x="1923.8" y="433.4"/><use href="#c" x="1839.2" y="455.9"/><use href="#c" x="1855.4" y="474.8"/><use href="#c" x="2016.0" y="406.4"/><use href="#c" x="1805.0" y="464.2"/><use href="#c" x="1941.8" y="432.9"/><use href="#c" x="1968.4" y="434.7"/><use href="#c" x="1929.2" y="429.7"/><use href="#c" x="1863.1" y="410.0"/><use href="#c" x="1830.7" y="459.9"/><use href="#c" x="1754.8" y="485.4"/><use href="#c" x="2049.0" y="395.4"/><use href="#c" x="1805.8" y="482.2"/><use href="#c" x="1900.2" y="445.0"/><use href="#c" x="1742.8" y="493.5"/><use href="#c" x="1670.6" y="468.5"/><use href="#c" x="1710.6" y="507.1"/><use href="#c" x="2006.0" y="393.1"/><use href="#c" x="1742.1" y="504.1"/><use href="#c" x="1776.1" y="439.8"/><use href="#c" x="1840.1" y="432.7"/><use href="#c" x="1696.4" y="487.4"/><use href="#c" x="1682.8" y="478.1"/><use href="#c" x="1980.8" y="408.9"/><use href="#c" x="1797.2" y="444.0"/><use href="#c" x="1864.7" y="452.7"/><use href="#c" x="1913.0" y="443.3"/><use href="#c" x="1704.4" y="451.5"/><use href="#c" x="1754.3" y="483.7"/><use href="#c" x="1724.1" y="488.8"/><use href="#c" x="1998.2" y="399.9"/><use href="#c" x="1882.0" y="423.7"/><use href="#c" x="1841.9" y="441.2"/><use href="#c" x="1913.9" y="432.0"/><use href="#c" x="1887.8" y="407.1"/><use href="#c" x="1801.5" y="479.9"/><use href="#c" x="1767.7" y="481.7"/><use href="#c" x="1804.5" y="473.7"/><use href="#c" x="1831.4" y="476.8"/><use href="#c" x="1941.5" y="437.6"/><use href="#c" x="1697.1" y="471.8"/><use href="#c" x="1948.9" y="409.2"/><use href="#c" x="1766.8" y="477.5"/><use href="#c" x="1900.7" y="475.7"/><use href="#c" x="1943.0" y="430.2"/><use href="#c" x="1852.9" y="435.1"/><use href="#c" x="1926.3" y="440.6"/><use href="#c" x="1845.0" y="485.0"/><use href="#c" x="1833.2" y="433.9"/><use href="#c" x="1727.8" y="456.0"/><use href="#c" x="1947.8" y="413.8"/><use href="#c" x="1735.2" y="481.0"/><use href="#c" x="1717.2" y="485.5"/><use href="#c" x="1704.6" y="477.1"/><use href="#c" x="1711.3" y="465.2"/><use href="#c" x="1697.3" y="484.0"/><use href="#c" x="1714.0" y="490.9"/><use href="#c" x="1719.3" y="499.4"/><use href="#c" x="1738.2" y="477.2"/><use href="#c" x="1704.9" y="486.6"/><use href="#c" x="1741.4" y="482.1"/><use href="#c" x="1713.6" y="491.0"/><use href="#c" x="1734.1" y="477.8"/><use href="#c" x="1733.1" y="484.3"/><use href="#c" x="1703.0" y="473.6"/><use href="#c" x="1713.7" y="490.6"/><use href="#c" x="1714.7" y="471.1"/><use href="#c" x="1706.3" y="462.0"/><use href="#c" x="1724.3" y="494.0"/><use href="#c" x="1699.3" y="485.3"/><use href="#c" x="1711.0" y="487.0"/><use href="#c" x="1714.2" y="479.4"/><use href="#c" x="1712.4" y="488.5"/><use href="#c" x="1686.7" y="468.4"/><use href="#c" x="1718.3" y="475.5"/><use href="#c" x="1719.2" y="467.5"/><use href="#c" x="1716.8" y="468.2"/><use href="#c" x="1707.6" y="485.9"/><use href="#c" x="1724.8" y="474.2"/><use href="#c" x="1735.1" y="485.5"/><use href="#c" x="1723.7" y="486.6"/><use href="#c" x="1694.2" y="474.5"/><use href="#c" x="1715.3" y="493.0"/><use href="#c" x="1704.5" y="478.0"/><use href="#c" x="1716.3" y="483.3"/><use href="#c" x="1726.6" y="480.9"/><use href="#c" x="1688.1" y="477.2"/><use href="#c" x="1708.7" y="487.4"/><use href="#c" x="1716.8" y="487.3"/><use href="#c" x="1716.0" y="479.2"/><use href="#c" x="1730.1" y="465.5"/><use href="#c" x="1735.2" y="490.2"/><use href="#c" x="1703.9" y="482.7"/><use href="#c" x="1738.4" y="466.3"/><use href="#c" x="1708.2" y="496.4"/><use href="#c" x="1720.9" y="483.4"/><use href="#c" x="1727.0" y="471.6"/><use href="#c" x="1721.6" y="490.9"/><use href="#c" x="1697.5" y="487.8"/><use href="#c" x="1724.0" y="481.4"/><use href="#c" x="1727.6" y="484.6"/><use href="#c" x="1733.7" y="475.4"/><use href="#c" x="1711.7" y="490.5"/><use href="#c" x="1714.5" y="481.1"/><use href="#c" x="1741.4" y="476.9"/><use href="#c" x="1727.2" y="502.7"/><use href="#c" x="1732.2" y="480.1"/><use href="#c" x="1702.5" y="508.8"/><use href="#c" x="1703.6" y="465.8"/><use href="#c" x="1729.7" y="470.9"/><use href="#c" x="1709.3" y="476.0"/><use href="#c" x="1726.4" y="476.5"/><use href="#c" x="1702.2" y="490.6"/><use href="#c" x="1711.9" y="449.1"/><use href="#c" x="1685.7" y="468.3"/><use href="#c" x="1738.5" y="476.0"/><use href="#c" x="1729.4" y="475.8"/><use href="#c" x="1725.4" y="487.0"/><use href="#c" x="1744.1" y="493.1"/><use href="#c" x="1734.4" y="483.6"/><use href="#c" x="1723.9" y="492.2"/><use href="#c" x="1699.8" y="463.7"/><use href="#c" x="1709.3" y="483.9"/><use href="#c" x="1727.6" y="463.8"/><use href="#c" x="1708.9" y="476.2"/><use href="#c" x="1728.5" y="486.6"/><use href="#c" x="1707.4" y="476.4"/><use href="#c" x="1714.7" y="464.7"/><use href="#c" x="1688.3" y="480.3"/><use href="#c" x="1714.2" y="497.7"/><use href="#c" x="1714.8" y="497.9"/><use href="#c" x="1711.3" y="470.6"/><use href="#c" x="1705.4" y="476.8"/><use href="#c" x="1721.2" y="486.6"/><use href="#c" x="1712.2" y="480.2"/><use href="#c" x="1721.6" y="486.7"/><use href="#c" x="1714.1" y="473.6"/><use href="#c" x="1700.9" y="497.3"/><use href="#c" x="1721.5" y="475.9"/><use href="#c" x="1718.2" y="466.2"/><use href="#c" x="1729.6" y="483.8"/><use href="#c" x="1722.6" y="499.0"/><use href="#c" x="1726.6" y="477.0"/><use href="#c" x="1730.2" y="481.4"/><use href="#c" x="1727.1" y="485.0"/><use href="#c" x="1733.6" y="474.1"/><use href="#c" x="1725.1" y="469.6"/><use href="#c" x="1736.7" y="484.3"/><use href="#c" x="1720.1" y="484.6"/><use href="#c" x="1706.5" y="485.8"/><use href="#c" x="1736.3" y="483.6"/><use href="#c" x="1745.0" y="491.7"/><use href="#c" x="1711.8" y="476.4"/><use href="#c" x="1725.2" y="478.8"/><use href="#c" x="1690.8" y="488.4"/><use href="#c" x="1739.3" y="470.7"/><use href="#c" x="1725.4" y="475.3"/><use href="#c" x="1715.7" y="482.0"/><use href="#c" x="1708.0" y="467.6"/><use href="#c" x="1724.1" y="476.0"/><use href="#c" x="1719.6" y="483.7"/><use href="#c" x="1694.3" y="485.1"/><use href="#c" x="1706.3" y="489.3"/><use href="#c" x="1720.1" y="466.4"/><use href="#c" x="1700.8" y="483.8"/><use href="#c" x="1742.2" y="491.4"/><use href="#c" x="1725.3" y="485.1"/><use href="#c" x="1728.7" y="462.1"/><use href="#c" x="1716.0" y="470.6"/><use href="#c" x="1722.1" y="459.4"/><use href="#c" x="1703.0" y="484.7"/><use href="#c" x="1718.9" y="462.4"/><use href="#c" x="1735.1" y="482.7"/><use href="#c" x="1694.6" y="471.7"/><use href="#c" x="1721.6" y="483.5"/><use href="#c" x="1730.9" y="459.2"/><use href="#c" x="1722.9" y="464.4"/><use href="#c" x="1689.1" y="475.7"/><use href="#c" x="1736.9" y="484.6"/><use href="#c" x="1699.9" y="479.4"/><use href="#c" x="1704.2" y="488.8"/><use href="#c" x="1690.0" y="496.3"/><use href="#c" x="1726.3" y="488.4"/><use href="#c" x="1704.0" y="498.1"/><use href="#c" x="1714.7" y="478.0"/><use href="#c" x="1718.5" y="512.9"/><use href="#c" x="1716.8" y="492.2"/><use href="#c" x="1715.0" y="494.3"/><use href="#c" x="1734.5" y="457.9"/><use href="#c" x="1731.1" y="460.1"/><use href="#c" x="1720.5" y="484.2"/><use href="#c" x="1684.5" y="493.8"/><use href="#c" x="1709.7" y="465.3"/><use href="#c" x="1701.6" y="483.1"/><use href="#c" x="1726.9" y="479.5"/><use href="#c" x="1716.5" y="469.9"/><use href="#c" x="1703.1" y="483.4"/><use href="#c" x="1720.4" y="463.2"/><use href="#c" x="1738.6" y="472.0"/><use href="#c" x="1730.4" y="503.0"/><use href="#c" x="1721.6" y="486.8"/><use href="#c" x="1692.6" y="478.0"/><use href="#c" x="1710.2" y="490.4"/><use href="#c" x="1689.1" y="484.2"/><use href="#c" x="1735.9" y="477.2"/><use href="#c" x="1728.0" y="469.2"/><use href="#c" x="1716.1" y="486.3"/><use href="#c" x="1706.5" y="486.9"/><use href="#c" x="1707.6" y="482.7"/><use href="#c" x="1708.5" y="471.0"/><use href="#c" x="1702.3" y="466.4"/><use href="#c" x="1708.9" y="488.5"/><use href="#c" x="1726.8" y="488.7"/><use href="#c" x="1686.5" y="477.4"/><use href="#c" x="1738.8" y="500.3"/><use href="#c" x="1724.4" y="487.2"/><use href="#c" x="1712.7" y="465.2"/><use href="#c" x="1694.7" y="491.2"/><use href="#c" x="1735.9" y="476.6"/><use href="#c" x="1723.3" y="488.5"/><use href="#c" x="1703.5" y="492.7"/><use href="#c" x="1719.6" y="486.6"/><use href="#c" x="1722.8" y="452.0"/><use href="#c" x="1688.0" y="483.6"/><use href="#c" x="1714.5" y="494.4"/><use href="#c" x="1718.9" y="491.9"/><use href="#c" x="1694.5" y="485.7"/><use href="#c" x="1740.7" y="481.1"/><use href="#c" x="1722.4" y="488.9"/><use href="#c" x="1704.0" y="500.6"/><use href="#c" x="1715.4" y="477.4"/><use href="#c" x="1723.5" y="489.3"/><use href="#c" x="1690.2" y="479.5"/><use href="#c" x="1711.7" y="488.2"/><use href="#c" x="1714.9" y="490.4"/><use href="#c" x="1707.1" y="478.0"/><use href="#c" x="1721.3" y="495.4"/><use href="#c" x="1709.8" y="484.9"/><use href="#c" x="1736.8" y="461.6"/><use href="#c" x="1741.4" y="476.7"/><use href="#c" x="1737.5" y="472.7"/><use href="#c" x="1760.6" y="486.8"/><use href="#c" x="1773.9" y="475.6"/><use href="#c" x="1797.9" y="483.8"/><use href="#c" x="1792.0" y="458.1"/><use href="#c" x="1795.5" y="472.1"/><use href="#c" x="1790.1" y="456.9"/><use href="#c" x="1779.8" y="472.5"/><use href="#c" x="1823.6" y="465.1"/><use href="#c" x="1785.1" y="468.1"/><use href="#c" x="1773.3" y="469.9"/><use href="#c" x="1767.8" y="476.6"/><use href="#c" x="1790.8" y="494.9"/><use href="#c" x="1783.5" y="443.6"/><use href="#c" x="1757.2" y="499.6"/><use href="#c" x="1816.6" y="473.0"/><use href="#c" x="1782.1" y="497.2"/><use href="#c" x="1798.0" y="457.0"/><use href="#c" x="1798.7" y="481.0"/><use href="#c" x="1807.5" y="468.3"/><use href="#c" x="1776.0" y="471.3"/><use href="#c" x="1815.0" y="483.4"/><use href="#c" x="1800.2" y="495.1"/><use href="#c" x="1841.6" y="468.3"/><use href="#c" x="1774.9" y="458.5"/><use href="#c" x="1788.2" y="479.5"/><use href="#c" x="1815.7" y="473.2"/><use href="#c" x="1829.0" y="429.8"/><use href="#c" x="1844.1" y="445.3"/><use href="#c" x="1813.1" y="454.5"/><use href="#c" x="1787.2" y="484.3"/><use href="#c" x="1825.1" y="448.7"/><use href="#c" x="1759.9" y="487.6"/><use href="#c" x="1760.3" y="484.1"/><use href="#c" x="1807.0" y="460.5"/><use href="#c" x="1788.2" y="474.7"/><use href="#c" x="1841.0" y="456.4"/><use href="#c" x="1773.9" y="485.5"/><use href="#c" x="1824.6" y="466.3"/><use href="#c" x="1762.3" y="475.2"/><use href="#c" x="1792.8" y="463.2"/><use href="#c" x="1756.7" y="503.0"/><use href="#c" x="1798.4" y="457.9"/><use href="#c" x="1797.7" y="487.3"/><use href="#c" x="1798.6" y="498.1"/><use href="#c" x="1805.8" y="465.4"/><use href="#c" x="1787.7" y="482.7"/><use href="#c" x="1822.2" y="447.5"/><use href="#c" x="1807.9" y="462.7"/><use href="#c" x="1791.9" y="489.2"/><use href="#c" x="1838.9" y="459.6"/><use href="#c" x="1835.9" y="482.2"/><use href="#c" x="1759.7" y="472.5"/><use href="#c" x="1843.1" y="462.6"/><use href="#c" x="1775.6" y="478.0"/><use href="#c" x="1826.3" y="475.2"/><use href="#c" x="2061.6" y="377.7"/><use href="#c" x="2050.0" y="383.4"/><use href="#c" x="2034.1" y="377.7"/><use href="#c" x="2048.9" y="402.9"/><use href="#c" x="1994.0" y="385.9"/><use href="#c" x="2010.9" y="389.1"/><use href="#c" x="1967.6" y="399.7"/><use href="#c" x="1975.0" y="399.7"/><use href="#c" x="1930.1" y="402.9"/><use href="#c" x="1930.1" y="466.9"/><use href="#c" x="1956.0" y="446.3"/><use href="#c" x="1981.4" y="438.3"/><use href="#c" x="2004.6" y="428.0"/><use href="#c" x="2019.4" y="422.4"/><use href="#c" x="2032.0" y="410.9"/><use href="#c" x="1798.4" y="421.0"/><use href="#c" x="1820.9" y="416.7"/><use href="#c" x="1871.6" y="401.8"/><use href="#c" x="1928.6" y="402.9"/><use href="#c" x="1814.5" y="502.9"/><use href="#c" x="1836.7" y="489.0"/><use href="#c" x="1862.0" y="484.3"/><use href="#c" x="1887.4" y="479.5"/><use href="#c" x="1910.1" y="471.0"/><use href="#c" x="1930.7" y="463.5"/><use href="#c" x="1719.0" y="530.0"/><use href="#c" x="1738.5" y="519.9"/><use href="#c" x="1763.3" y="524.6"/><use href="#c" x="1772.3" y="524.6"/><use href="#c" x="1786.0" y="523.1"/><use href="#c" x="1692.6" y="452.6"/><use href="#c" x="1726.9" y="442.2"/><use href="#c" x="1742.7" y="438.0"/><use href="#c" x="1772.3" y="441.2"/><use href="#c" x="1788.1" y="429.7"/><use href="#c" x="1797.6" y="423.1"/><use href="#c" x="1677.7" y="491.4"/><use href="#c" x="1672.0" y="473.1"/><use href="#c" x="1665.0" y="467.3"/><use href="#c" x="1650.3" y="468.6"/><use href="#c" x="1715.8" y="528.7"/><use href="#c" x="1718.9" y="523.9"/><use href="#c" x="1725.2" y="519.3"/><use href="#c" x="1737.8" y="522.3"/><use href="#c" x="1740.9" y="519.3"/><use href="#c" x="1759.6" y="525.5"/><use href="#c" x="1769.1" y="525.5"/><use href="#c" x="1786.5" y="523.9"/><use href="#c" x="1721.6" y="515.6"/><use href="#c" x="1731.1" y="513.5"/><use href="#c" x="1712.1" y="518.8"/>
<use href="#s" x="1620.0" y="456.6"/><use href="#s" x="1605.4" y="475.0"/><use href="#s" x="1594.0" y="485.0"/><use href="#s" x="1597.6" y="482.4"/><use href="#s" x="1589.4" y="495.0"/><use href="#s" x="1588.0" y="490.0"/><use href="#s" x="1581.0" y="495.6"/><use href="#s" x="1563.3" y="511.4"/><use href="#s" x="1569.1" y="513.0"/><use href="#s" x="1561.1" y="515.6"/><use href="#s" x="1566.0" y="512.0"/><use href="#s" x="1553.7" y="528.0"/><use href="#s" x="1551.0" y="525.0"/><use href="#s" x="1540.6" y="540.1"/><use href="#s" x="1542.0" y="539.0"/>
<line x1="1490.4" y1="586.9" x2="2071.1" y2="1.9" stroke="#000" stroke-width="2.1"/>
</g>
<rect x="1509.2" y="20.3" width="470.4" height="123.6" rx="6.2" ry="6.2" fill="#fff" stroke="#ccc" stroke-width="2.7"/>
<use href="#c" x="1562.5" y="55.0"/>
<use href="#s" x="1562.5" y="111.4"/>
<text x="1630.5" y="65.0" font-size="38.5">SG-71 in test set</text>
<text x="1630.5" y="121.2" font-size="38.5">SG-71 in train set</text>
<rect x="1490.4" y="1.9" width="580.7" height="585.0" fill="none" stroke="#000" stroke-width="2.2"/>
<path d="M1490.40 586.9v9.7M1490.4 586.90h-9.7M1595.98 586.9v9.7M1490.4 480.54h-9.7M1701.56 586.9v9.7M1490.4 374.17h-9.7M1807.15 586.9v9.7M1490.4 267.81h-9.7M1912.73 586.9v9.7M1490.4 161.45h-9.7M2018.31 586.9v9.7M1490.4 55.08h-9.7" stroke="#000" stroke-width="2.2" fill="none"/>
<text x="1490.4" y="635.3" font-size="38.5" text-anchor="middle">−1</text>
<text x="1471.3" y="601.5" font-size="38.5" text-anchor="end">−1</text>
<text x="1596.0" y="635.3" font-size="38.5" text-anchor="middle">0</text>
<text x="1471.3" y="495.1" font-size="38.5" text-anchor="end">0</text>
<text x="1701.6" y="635.3" font-size="38.5" text-anchor="middle">1</text>
<text x="1471.3" y="388.8" font-size="38.5" text-anchor="end">1</text>
<text x="1807.1" y="635.3" font-size="38.5" text-anchor="middle">2</text>
<text x="1471.3" y="282.4" font-size="38.5" text-anchor="end">2</text>
<text x="1912.7" y="635.3" font-size="38.5" text-anchor="middle">3</text>
<text x="1471.3" y="176.0" font-size="38.5" text-anchor="end">3</text>
<text x="2018.3" y="635.3" font-size="38.5" text-anchor="middle">4</text>
<text x="1471.3" y="69.7" font-size="38.5" text-anchor="end">4</text>
<text x="1933.0" y="571.0" font-size="54.6">(c)</text>
<text x="1641.0" y="689.2" font-size="38.5" class="i">E</text>
<text x="1667.3" y="674.9" font-size="26.95" class="i">DFT</text>
<text x="1664.0" y="699.1" font-size="26.95" class="i">f</text>
<text x="1732.3" y="689.2" font-size="38.5">(eV/atom)</text>
<g transform="translate(36.4,458.7) rotate(-90)"><text x="0" y="0" font-size="38.5" class="i">E</text><text x="26.7" y="-15.7" font-size="26.95" class="i">ALIGNN</text><text x="23.2" y="10.2" font-size="26.95" class="i">f</text><text x="140.4" y="0" font-size="38.5">(eV/atom)</text></g>
</svg></body></html>
